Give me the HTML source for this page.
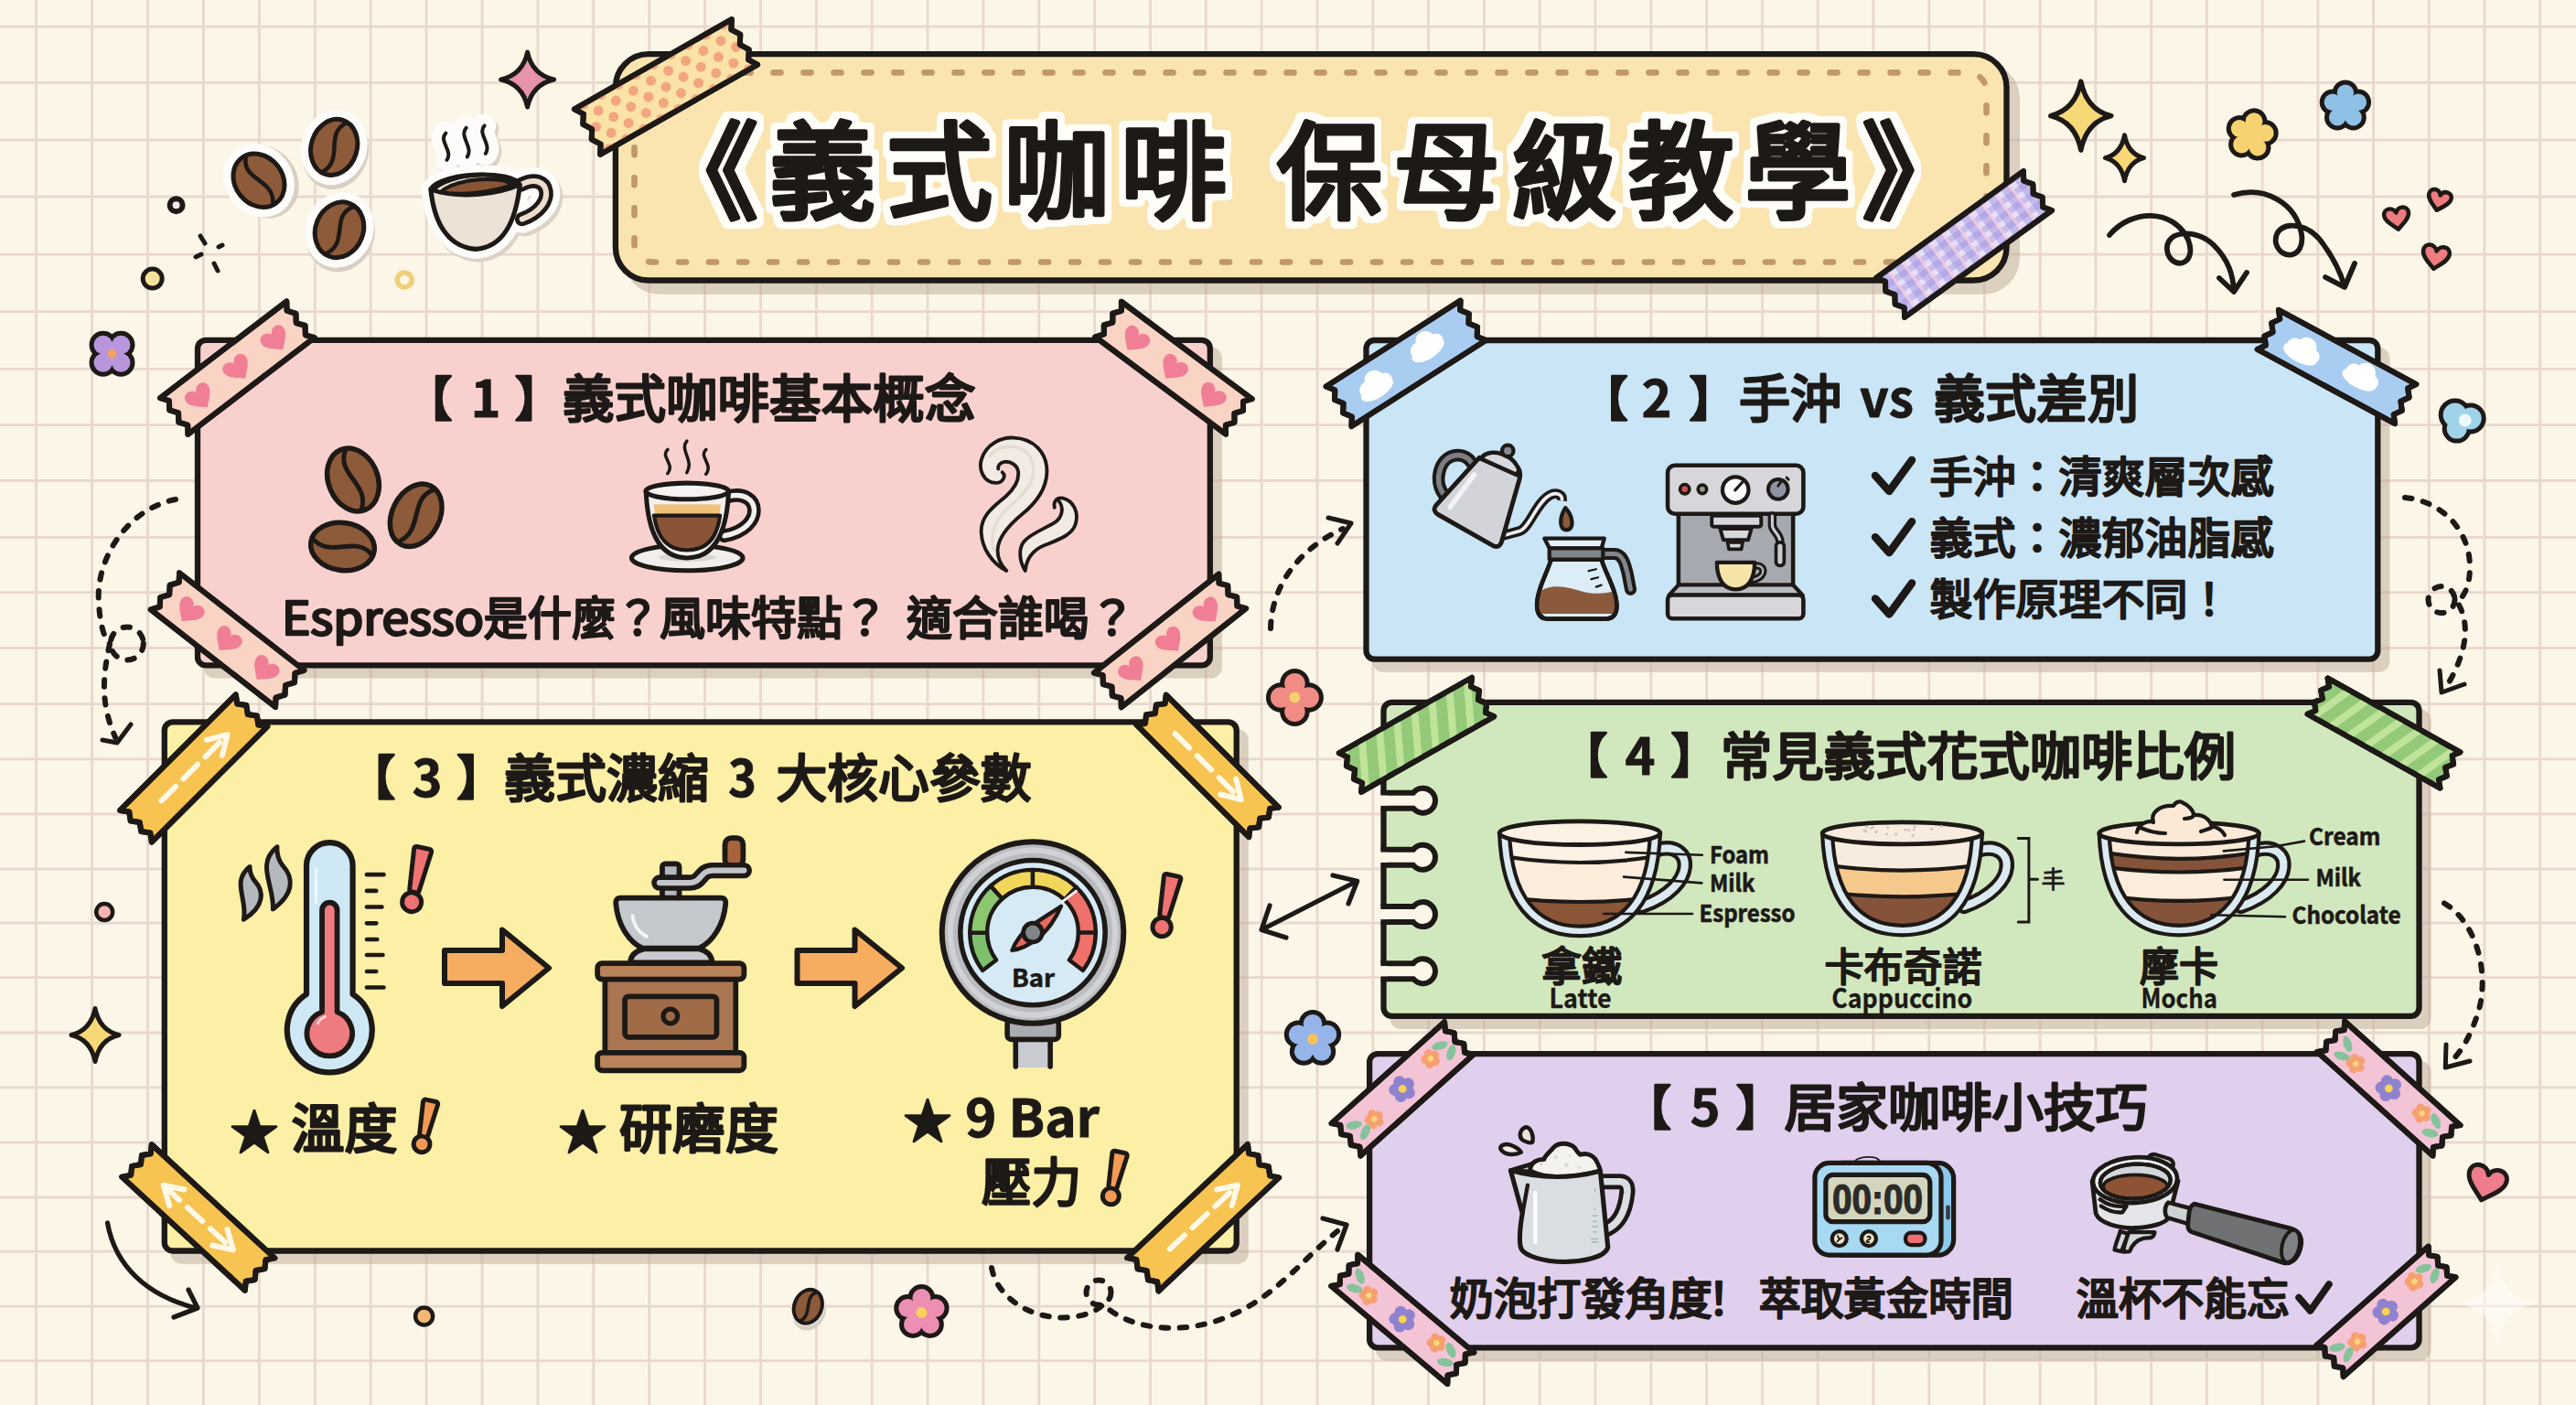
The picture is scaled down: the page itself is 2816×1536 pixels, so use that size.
<!DOCTYPE html>
<html lang="zh-Hant"><head><meta charset="utf-8"><title>義式咖啡 保母級教學</title>
<style>html,body{margin:0;padding:0;background:#fcf6e8;}body{width:2816px;height:1536px;overflow:hidden;}svg{display:block;}text{white-space:pre;}</style></head>
<body>
<svg width="2816" height="1536" viewBox="0 0 2816 1536">
<defs><filter id="tol" x="-3%" y="-25%" width="106%" height="150%" color-interpolation-filters="sRGB"><feMorphology in="SourceAlpha" operator="dilate" radius="7" result="d"/><feGaussianBlur in="d" stdDeviation="2.2" result="b"/><feComponentTransfer in="b" result="t"><feFuncA type="linear" slope="9" intercept="-3.2"/></feComponentTransfer><feFlood flood-color="#fffdf8" result="f"/><feComposite in="f" in2="t" operator="in" result="w"/><feMerge><feMergeNode in="w"/><feMergeNode in="SourceGraphic"/></feMerge></filter>
<clipPath id="tp1"><path d="M-99 -28.5 L99 -28.5 L93 -19 L99 -9.5 L93 0 L99 9.5 L93 19 L99 28.5 L-99 28.5 L-93 19 L-99 9.5 L-93 0 L-99 -9.5 L-93 -19Z"/></clipPath>
<clipPath id="tp2"><path d="M-99.5 -26.5 L99.5 -26.5 L93.5 -17.7 L99.5 -8.8 L93.5 0 L99.5 8.8 L93.5 17.7 L99.5 26.5 L-99.5 26.5 L-93.5 17.7 L-99.5 8.8 L-93.5 0 L-99.5 -8.8 L-93.5 -17.7Z"/></clipPath>
<clipPath id="tp3"><path d="M-87 -25 L87 -25 L81 -16.7 L87 -8.3 L81 0 L87 8.3 L81 16.7 L87 25 L-87 25 L-81 16.7 L-87 8.3 L-81 0 L-87 -8.3 L-81 -16.7Z"/></clipPath>
<clipPath id="tp4"><path d="M-89 -24 L89 -24 L83 -16 L89 -8 L83 0 L89 8 L83 16 L89 24 L-89 24 L-83 16 L-89 8 L-83 0 L-89 -8 L-83 -16Z"/></clipPath>
<clipPath id="tp5"><path d="M-86.5 -25.5 L86.5 -25.5 L80.5 -17 L86.5 -8.5 L80.5 0 L86.5 8.5 L80.5 17 L86.5 25.5 L-86.5 25.5 L-80.5 17 L-86.5 8.5 L-80.5 0 L-86.5 -8.5 L-80.5 -17Z"/></clipPath>
<clipPath id="tp6"><path d="M-87 -24 L87 -24 L81 -16 L87 -8 L81 0 L87 8 L81 16 L87 24 L-87 24 L-81 16 L-87 8 L-81 0 L-87 -8 L-81 -16Z"/></clipPath>
<clipPath id="tp7"><path d="M-87.2 -25.8 L87.2 -25.8 L81.2 -17.2 L87.2 -8.6 L81.2 0 L87.2 8.6 L81.2 17.2 L87.2 25.8 L-87.2 25.8 L-81.2 17.2 L-87.2 8.6 L-81.2 0 L-87.2 -8.6 L-81.2 -17.2Z"/></clipPath>
<clipPath id="tp8"><path d="M-85.5 -24.5 L85.5 -24.5 L79.5 -16.3 L85.5 -8.2 L79.5 0 L85.5 8.2 L79.5 16.3 L85.5 24.5 L-85.5 24.5 L-79.5 16.3 L-85.5 8.2 L-79.5 0 L-85.5 -8.2 L-79.5 -16.3Z"/></clipPath>
<clipPath id="tp9"><path d="M-89.5 -24.5 L89.5 -24.5 L83.5 -16.3 L89.5 -8.2 L83.5 0 L89.5 8.2 L83.5 16.3 L89.5 24.5 L-89.5 24.5 L-83.5 16.3 L-89.5 8.2 L-83.5 0 L-89.5 -8.2 L-83.5 -16.3Z"/></clipPath>
<clipPath id="tp10"><path d="M-87 -23 L87 -23 L81 -15.3 L87 -7.7 L81 0 L87 7.7 L81 15.3 L87 23 L-87 23 L-81 15.3 L-87 7.7 L-81 0 L-87 -7.7 L-81 -15.3Z"/></clipPath>
<clipPath id="tp11"><path d="M-91.5 -24 L91.5 -24 L85.5 -16 L91.5 -8 L85.5 0 L91.5 8 L85.5 16 L91.5 24 L-91.5 24 L-85.5 16 L-91.5 8 L-85.5 0 L-91.5 -8 L-85.5 -16Z"/></clipPath>
<clipPath id="tp12"><path d="M-90.5 -25 L90.5 -25 L84.5 -16.7 L90.5 -8.3 L84.5 0 L90.5 8.3 L84.5 16.7 L90.5 25 L-90.5 25 L-84.5 16.7 L-90.5 8.3 L-84.5 0 L-90.5 -8.3 L-84.5 -16.7Z"/></clipPath>
<clipPath id="tp13"><path d="M-83.5 -24.5 L83.5 -24.5 L77.5 -16.3 L83.5 -8.2 L77.5 0 L83.5 8.2 L77.5 16.3 L83.5 24.5 L-83.5 24.5 L-77.5 16.3 L-83.5 8.2 L-77.5 0 L-83.5 -8.2 L-77.5 -16.3Z"/></clipPath>
<clipPath id="tp14"><path d="M-83 -22.5 L83 -22.5 L77 -15 L83 -7.5 L77 0 L83 7.5 L77 15 L83 22.5 L-83 22.5 L-77 15 L-83 7.5 L-77 0 L-83 -7.5 L-77 -15Z"/></clipPath>
<clipPath id="tp15"><path d="M-83 -23.8 L83 -23.8 L77 -15.8 L83 -7.9 L77 0 L83 7.9 L77 15.8 L83 23.8 L-83 23.8 L-77 15.8 L-83 7.9 L-77 0 L-83 -7.9 L-77 -15.8Z"/></clipPath>
<clipPath id="tp16"><path d="M-83 -22.5 L83 -22.5 L77 -15 L83 -7.5 L77 0 L83 7.5 L77 15 L83 22.5 L-83 22.5 L-77 15 L-83 7.5 L-77 0 L-83 -7.5 L-77 -15Z"/></clipPath>
<clipPath id="tp17"><path d="M-85 -22.5 L85 -22.5 L79 -15 L85 -7.5 L79 0 L85 7.5 L79 15 L85 22.5 L-85 22.5 L-79 15 L-85 7.5 L-79 0 L-85 -7.5 L-79 -15Z"/></clipPath>
<clipPath id="tp18"><path d="M-82 -22.5 L82 -22.5 L76 -15 L82 -7.5 L76 0 L82 7.5 L76 15 L82 22.5 L-82 22.5 L-76 15 L-82 7.5 L-76 0 L-82 -7.5 L-76 -15Z"/></clipPath>
<clipPath id="cup1"><path d="M1650.1 910.7 C1652.4 980.1 1680.9 1012.7 1727 1012.7 C1773.1 1012.7 1801.6 980.1 1803.9 910.7Z"/></clipPath>
<clipPath id="cup2"><path d="M2003.1 910.9 C2005.4 979.5 2033.7 1011.8 2079.5 1011.8 C2125.3 1011.8 2153.6 979.5 2155.9 910.9Z"/></clipPath>
<clipPath id="cup3"><path d="M2305.7 910.9 C2308 979.5 2336.3 1011.8 2382.1 1011.8 C2427.9 1011.8 2456.2 979.5 2458.5 910.9Z"/></clipPath></defs>
<rect width="2816" height="1536" fill="#fcf6e8"/>
<path d="M39.6 0V1536M100.5 0V1536M161.5 0V1536M222.4 0V1536M283.4 0V1536M344.3 0V1536M405.2 0V1536M466.1 0V1536M527 0V1536M587.9 0V1536M648.8 0V1536M709.7 0V1536M770.6 0V1536M831.5 0V1536M892.4 0V1536M953.2 0V1536M1014.1 0V1536M1074.9 0V1536M1135.8 0V1536M1196.6 0V1536M1257.5 0V1536M1318.3 0V1536M1379.1 0V1536M1440 0V1536M1500.8 0V1536M1561.6 0V1536M1622.4 0V1536M1683.2 0V1536M1744 0V1536M1804.8 0V1536M1865.6 0V1536M1926.4 0V1536M1987.1 0V1536M2047.9 0V1536M2108.7 0V1536M2169.4 0V1536M2230.2 0V1536M2290.9 0V1536M2351.7 0V1536M2412.4 0V1536M2473.1 0V1536M2533.9 0V1536M2594.6 0V1536M2655.3 0V1536M2716 0V1536M2776.7 0V1536M0 29.2H2816M0 90.4H2816M0 153.1H2816M0 215H2816M0 278.1H2816M0 340.7H2816M0 403.4H2816M0 464.6H2816M0 525.5H2816M0 587.5H2816M0 647.6H2816M0 708.5H2816M0 769.7H2816M0 829.8H2816M0 890H2816M0 950H2816M0 1009H2816M0 1068.7H2816M0 1129H2816M0 1188.9H2816M0 1248.8H2816M0 1309H2816M0 1368.2H2816M0 1428.1H2816M0 1487.6H2816" stroke="#e8d8cd" stroke-width="2.8" fill="none"/>
<g transform="translate(283 197.3) rotate(-38)"><ellipse rx="37" ry="42" fill="#d9cfc2" transform="translate(3 4)"/><ellipse rx="37" ry="42" fill="#fdfcfa"/><ellipse rx="26" ry="31" fill="#8d5a3a" stroke="#1d1916" stroke-width="5"/><path d="M3.9 -28.5 C-14.3 -10.8 14.3 9.3 -3.1 28.8" fill="none" stroke="#1d1916" stroke-width="4.5" stroke-linecap="round"/></g>
<g transform="translate(365.2 160.9) rotate(18)"><ellipse rx="36" ry="42" fill="#d9cfc2" transform="translate(3 4)"/><ellipse rx="36" ry="42" fill="#fdfcfa"/><ellipse rx="25" ry="31" fill="#8d5a3a" stroke="#1d1916" stroke-width="5"/><path d="M3.8 -28.5 C-13.8 -10.8 13.8 9.3 -3 28.8" fill="none" stroke="#1d1916" stroke-width="4.5" stroke-linecap="round"/></g>
<g transform="translate(371 251.3) rotate(22)"><ellipse rx="37" ry="42" fill="#d9cfc2" transform="translate(3 4)"/><ellipse rx="37" ry="42" fill="#fdfcfa"/><ellipse rx="26" ry="31" fill="#8d5a3a" stroke="#1d1916" stroke-width="5"/><path d="M3.9 -28.5 C-14.3 -10.8 14.3 9.3 -3.1 28.8" fill="none" stroke="#1d1916" stroke-width="4.5" stroke-linecap="round"/></g>
<g transform="translate(0 0) scale(0.23485)" stroke-linejoin="round" stroke-linecap="round" ><g transform="translate(12 16)" opacity="0.9"><path d="M2005 880 C2020 1030 2080 1150 2215 1160 C2340 1150 2400 1040 2420 860 C2380 790 2060 800 2005 880Z" fill="#d9cfc2" stroke="#d9cfc2" stroke-width="90" /><path d="M2425 860 C2560 790 2600 960 2430 1020" fill="none" stroke="#d9cfc2" stroke-width="130" /><path d="M2075 620 C2040 657.5 2110 701.25 2080 745 M2170 595 C2135 635.5 2205 682.75 2175 730 M2255 585 C2220 624.0 2290 669.5 2260 715 " fill="none" stroke="#d9cfc2" stroke-width="110" /></g><path d="M2005 880 C2020 1030 2080 1150 2215 1160 C2340 1150 2400 1040 2420 860 C2380 790 2060 800 2005 880Z" fill="#fdfcfa" stroke="#fdfcfa" stroke-width="90" /><path d="M2425 860 C2560 790 2600 960 2430 1020" fill="none" stroke="#fdfcfa" stroke-width="130" /><path d="M2075 620 C2040 657.5 2110 701.25 2080 745 M2170 595 C2135 635.5 2205 682.75 2175 730 M2255 585 C2220 624.0 2290 669.5 2260 715 " fill="none" stroke="#fdfcfa" stroke-width="110" /><path d="M2425 860 C2560 790 2600 960 2430 1020" fill="none" stroke="#1d1916" stroke-width="66" /><path d="M2425 860 C2560 790 2600 960 2430 1020" fill="none" stroke="#ecdccb" stroke-width="26" /><path d="M2005 880 C2020 1030 2080 1150 2215 1160 C2340 1150 2400 1040 2420 860 C2380 790 2060 800 2005 880Z" fill="#ece2d6" stroke="#1d1916" stroke-width="22" /><path d="M2012 885 C2100 800 2350 790 2415 862 C2330 900 2150 930 2012 885Z" fill="#f1e6da" stroke="#1d1916" stroke-width="20" /><path d="M2050 895 C2120 830 2330 815 2390 860 C2300 890 2150 915 2050 895Z" fill="#8a5537" stroke="#1d1916" stroke-width="18" /><path d="M2075 620 C2040 657.5 2110 701.25 2080 745 M2170 595 C2135 635.5 2205 682.75 2175 730 M2255 585 C2220 624.0 2290 669.5 2260 715 " fill="none" stroke="#1d1916" stroke-width="17" /></g>
<path transform="translate(576.6 87) rotate(0)" d="M0 -30 Q5.2 -5.4 29 0 Q5.2 5.4 0 30 Q-5.2 5.4 -29 0 Q-5.2 -5.4 0 -30Z" fill="#e793a8" stroke="#1d1916" stroke-width="5" stroke-linejoin="round"/>
<path transform="translate(2274.8 126.6) rotate(0)" d="M0 -37.5 Q5.9 -6.8 33 0 Q5.9 6.8 0 37.5 Q-5.9 6.8 -33 0 Q-5.9 -6.8 0 -37.5Z" fill="#f6d877" stroke="#1d1916" stroke-width="5.5" stroke-linejoin="round"/>
<path transform="translate(2322.5 172.7) rotate(0)" d="M0 -25 Q3.8 -4.5 21 0 Q3.8 4.5 0 25 Q-3.8 4.5 -21 0 Q-3.8 -4.5 0 -25Z" fill="#f6d877" stroke="#1d1916" stroke-width="5" stroke-linejoin="round"/>
<path transform="translate(104 1131.5) rotate(0)" d="M0 -29 Q4.7 -5.2 26 0 Q4.7 5.2 0 29 Q-4.7 5.2 -26 0 Q-4.7 -5.2 0 -29Z" fill="#f6d877" stroke="#1d1916" stroke-width="5" stroke-linejoin="round"/>
<g transform="translate(2461.4 147.6) rotate(10)"><g fill="#1d1916" stroke="#1d1916" stroke-width="10"><circle cx="0" cy="-15.1" r="9.4"/><circle cx="14.3" cy="-4.7" r="9.4"/><circle cx="8.9" cy="12.2" r="9.4"/><circle cx="-8.9" cy="12.2" r="9.4"/><circle cx="-14.3" cy="-4.7" r="9.4"/><circle r="13.6"/></g><g fill="#f6d370"><circle cx="0" cy="-15.1" r="9.4"/><circle cx="14.3" cy="-4.7" r="9.4"/><circle cx="8.9" cy="12.2" r="9.4"/><circle cx="-8.9" cy="12.2" r="9.4"/><circle cx="-14.3" cy="-4.7" r="9.4"/><circle r="13.6"/></g></g>
<g transform="translate(2563.9 116.4) rotate(0)"><g fill="#1d1916" stroke="#1d1916" stroke-width="10"><circle cx="0" cy="-14.8" r="9.2"/><circle cx="14" cy="-4.6" r="9.2"/><circle cx="8.7" cy="11.9" r="9.2"/><circle cx="-8.7" cy="11.9" r="9.2"/><circle cx="-14" cy="-4.6" r="9.2"/><circle r="13.3"/></g><g fill="#8ec0e6"><circle cx="0" cy="-14.8" r="9.2"/><circle cx="14" cy="-4.6" r="9.2"/><circle cx="8.7" cy="11.9" r="9.2"/><circle cx="-8.7" cy="11.9" r="9.2"/><circle cx="-14" cy="-4.6" r="9.2"/><circle r="13.3"/></g></g>
<g transform="translate(122.5 386.7) rotate(45)"><g fill="#1d1916" stroke="#1d1916" stroke-width="10"><circle cx="0" cy="-13.8" r="10.2"/><circle cx="13.8" cy="0" r="10.2"/><circle cx="0" cy="13.8" r="10.2"/><circle cx="-13.8" cy="0" r="10.2"/><circle r="12.4"/></g><g fill="#b796dc"><circle cx="0" cy="-13.8" r="10.2"/><circle cx="13.8" cy="0" r="10.2"/><circle cx="0" cy="13.8" r="10.2"/><circle cx="-13.8" cy="0" r="10.2"/><circle r="12.4"/></g><circle r="5" fill="#f4a261"/></g>
<g transform="translate(1415.4 762.5) rotate(0)"><g fill="#1d1916" stroke="#1d1916" stroke-width="10"><circle cx="0" cy="-15.2" r="11.3"/><circle cx="15.2" cy="0" r="11.3"/><circle cx="0" cy="15.2" r="11.3"/><circle cx="-15.2" cy="0" r="11.3"/><circle r="13.7"/></g><g fill="#f08c84"><circle cx="0" cy="-15.2" r="11.3"/><circle cx="15.2" cy="0" r="11.3"/><circle cx="0" cy="15.2" r="11.3"/><circle cx="-15.2" cy="0" r="11.3"/><circle r="13.7"/></g><circle r="6" fill="#f6d06a"/></g>
<g transform="translate(1435 1136) rotate(0)"><g fill="#1d1916" stroke="#1d1916" stroke-width="10"><circle cx="0" cy="-16.6" r="10.4"/><circle cx="15.8" cy="-5.1" r="10.4"/><circle cx="9.8" cy="13.4" r="10.4"/><circle cx="-9.8" cy="13.4" r="10.4"/><circle cx="-15.8" cy="-5.1" r="10.4"/><circle r="14.9"/></g><g fill="#95b5ea"><circle cx="0" cy="-16.6" r="10.4"/><circle cx="15.8" cy="-5.1" r="10.4"/><circle cx="9.8" cy="13.4" r="10.4"/><circle cx="-9.8" cy="13.4" r="10.4"/><circle cx="-15.8" cy="-5.1" r="10.4"/><circle r="14.9"/></g><circle r="6" fill="#f6c25a"/></g>
<g transform="translate(1007.4 1435) rotate(0)"><g fill="#1d1916" stroke="#1d1916" stroke-width="10"><circle cx="0" cy="-16" r="10"/><circle cx="15.2" cy="-4.9" r="10"/><circle cx="9.4" cy="12.9" r="10"/><circle cx="-9.4" cy="12.9" r="10"/><circle cx="-15.2" cy="-4.9" r="10"/><circle r="14.4"/></g><g fill="#ec8fb2"><circle cx="0" cy="-16" r="10"/><circle cx="15.2" cy="-4.9" r="10"/><circle cx="9.4" cy="12.9" r="10"/><circle cx="-9.4" cy="12.9" r="10"/><circle cx="-15.2" cy="-4.9" r="10"/><circle r="14.4"/></g><circle r="6" fill="#f8d05c"/></g>
<path transform="translate(2620.2 238.6) rotate(-8)" d="M0 12.2 C-4.7 7.4 -13.5 2 -13.5 -4.7 C-13.5 -12.8 -2.7 -13.5 0 -6.1 C2.7 -13.5 13.5 -12.8 13.5 -4.7 C13.5 2 4.7 7.4 0 12.2Z" fill="#ee7c7f" stroke="#1d1916" stroke-width="4.5" stroke-linejoin="round"/>
<path transform="translate(2666.4 218.9) rotate(14)" d="M0 11.2 C-4.4 6.9 -12.5 1.9 -12.5 -4.4 C-12.5 -11.9 -2.5 -12.5 0 -5.6 C2.5 -12.5 12.5 -11.9 12.5 -4.4 C12.5 1.9 4.4 6.9 0 11.2Z" fill="#ee7c7f" stroke="#1d1916" stroke-width="4.5" stroke-linejoin="round"/>
<path transform="translate(2662.5 280.9) rotate(10)" d="M0 13.1 C-5.1 8 -14.5 2.2 -14.5 -5.1 C-14.5 -13.8 -2.9 -14.5 0 -6.5 C2.9 -14.5 14.5 -13.8 14.5 -5.1 C14.5 2.2 5.1 8 0 13.1Z" fill="#ee7c7f" stroke="#1d1916" stroke-width="4.5" stroke-linejoin="round"/>
<path transform="translate(2717.7 1293.6) rotate(16)" d="M0 18.9 C-7.3 11.6 -21 3.1 -21 -7.3 C-21 -19.9 -4.2 -21 0 -9.5 C4.2 -21 21 -19.9 21 -7.3 C21 3.1 7.3 11.6 0 18.9Z" fill="#ee7c8c" stroke="#1d1916" stroke-width="5" stroke-linejoin="round"/>
<g transform="translate(2691.7 459.6)"><g fill="#1d1916" stroke="#1d1916" stroke-width="10"><circle cx="-8" cy="-6" r="13"/><circle cx="9" cy="-2" r="12"/><circle cx="-6" cy="9" r="11"/></g><g fill="#9fd3ea"><circle cx="-8" cy="-6" r="13"/><circle cx="9" cy="-2" r="12"/><circle cx="-6" cy="9" r="11"/></g><circle cx="3" cy="0" r="7" fill="#eef8fc"/></g>
<circle cx="192.6" cy="224.3" r="7" fill="#f3e9e4" stroke="#1d1916" stroke-width="6"/>
<circle cx="166.7" cy="304.6" r="10.5" fill="#f7e29b" stroke="#1d1916" stroke-width="5"/>
<circle cx="442.2" cy="306" r="8" fill="#fdf6e6" stroke="#f0cf7a" stroke-width="5.5"/>
<circle cx="114.2" cy="997.1" r="9" fill="#f4b6b0" stroke="#1d1916" stroke-width="4.5"/>
<circle cx="463.6" cy="1439" r="9.5" fill="#f2b874" stroke="#1d1916" stroke-width="4.5"/>
<g transform="translate(883.3 1428.3) rotate(22)"><ellipse rx="18" ry="22" fill="#d9cfc2" transform="translate(3 4)"/><ellipse rx="18" ry="22" fill="#fdfcfa"/><ellipse rx="15" ry="19" fill="#8d5a3a" stroke="#1d1916" stroke-width="4"/><path d="M2.2 -17.5 C-8.2 -6.6 8.2 5.7 -1.8 17.7" fill="none" stroke="#1d1916" stroke-width="3.6" stroke-linecap="round"/></g>
<path d="M219 258 L224 266 M239 270 L243 268 M214 281 L220 278 M234 288 L238 296" stroke="#1d1916" stroke-width="5" stroke-linecap="round" fill="none"/>
<path d="M2306 257 C2330 228 2376 228 2392 262 C2402 288 2378 296 2370 278 C2362 252 2400 248 2420 268 C2436 284 2441 300 2442 318 M2426 304 L2442 319 L2456 298" fill="none" stroke="#1d1916" stroke-linecap="round" stroke-linejoin="round" stroke-width="5.8"/>
<path d="M2442 213 C2476 203 2510 222 2516 256 C2520 282 2494 286 2488 266 C2484 244 2516 238 2536 262 C2550 280 2558 296 2563 313 M2542 303 L2563 314 L2574 288" fill="none" stroke="#1d1916" stroke-linecap="round" stroke-linejoin="round" stroke-width="5.8"/>
<path d="M192 546 C140 556 104 610 108 660 C110 690 116 700 120 704 C112 740 110 770 126 806" fill="none" stroke="#1d1916" stroke-linecap="round" stroke-linejoin="round" stroke-width="6" stroke-dasharray="7.5 12.5"/>
<circle cx="138.8" cy="703.5" r="18" fill="none" stroke="#1d1916" stroke-linecap="round" stroke-linejoin="round" stroke-width="6" stroke-dasharray="7.5 12.5"/>
<path d="M112 809 L128 812 L143 792" fill="none" stroke="#1d1916" stroke-linecap="round" stroke-linejoin="round" stroke-width="5"/>
<path d="M1389 687 C1390 640 1420 600 1468 578" fill="none" stroke="#1d1916" stroke-linecap="round" stroke-linejoin="round" stroke-width="6" stroke-dasharray="7.5 12.5"/>
<path d="M1452 566 L1477 572 L1462 594" fill="none" stroke="#1d1916" stroke-linecap="round" stroke-linejoin="round" stroke-width="5"/>
<path d="M1381 1015.5 L1482 964 M1406 1025 L1379 1016.5 L1388 990 M1457 957 L1483.7 963.2 L1474 988" fill="none" stroke="#1d1916" stroke-linecap="round" stroke-linejoin="round" stroke-width="5.2"/>
<path d="M2629 544 C2670 548 2700 580 2700 620 C2700 640 2694 652 2686 658 C2700 680 2698 710 2676 748" fill="none" stroke="#1d1916" stroke-linecap="round" stroke-linejoin="round" stroke-width="6" stroke-dasharray="7.5 12.5"/>
<circle cx="2669" cy="655.6" r="14.5" fill="none" stroke="#1d1916" stroke-linecap="round" stroke-linejoin="round" stroke-width="6" stroke-dasharray="7.5 12.5"/>
<path d="M2667 733 L2669 757 L2694 748" fill="none" stroke="#1d1916" stroke-linecap="round" stroke-linejoin="round" stroke-width="5"/>
<path d="M2672 987.5 C2710 1010 2722 1070 2708 1110 C2700 1134 2690 1150 2680 1160" fill="none" stroke="#1d1916" stroke-linecap="round" stroke-linejoin="round" stroke-width="6" stroke-dasharray="7.5 12.5"/>
<path d="M2674 1142 L2673.3 1167 L2700 1160" fill="none" stroke="#1d1916" stroke-linecap="round" stroke-linejoin="round" stroke-width="5"/>
<path d="M1084 1386 C1090 1420 1130 1444 1170 1440 C1190 1438 1200 1432 1206 1426 C1230 1450 1280 1460 1330 1444 C1390 1424 1420 1380 1462 1346" fill="none" stroke="#1d1916" stroke-linecap="round" stroke-linejoin="round" stroke-width="6" stroke-dasharray="7.5 12.5"/>
<circle cx="1201" cy="1413" r="13.5" fill="none" stroke="#1d1916" stroke-linecap="round" stroke-linejoin="round" stroke-width="6" stroke-dasharray="7.5 12.5"/>
<path d="M1446 1332 L1472 1339 L1462 1366" fill="none" stroke="#1d1916" stroke-linecap="round" stroke-linejoin="round" stroke-width="5.2"/>
<path d="M117.5 1337 C126 1384 160 1416 214 1430 M190 1440 L216 1430 L206 1410" fill="none" stroke="#1d1916" stroke-linecap="round" stroke-linejoin="round" stroke-width="5.2"/>
<path transform="translate(2730 1425)" d="M0 -46 Q5 -5 46 0 Q5 5 0 46 Q-5 5 -46 0 Q-5 -5 0 -46Z" fill="#fffdf8" opacity="0.55"/>
<rect x="681" y="68" width="1527" height="253.8" rx="40" fill="#bfae9c" opacity="0.55"/>
<rect x="672.9" y="59.1" width="1520.6" height="247.4" rx="36" fill="#fae5b1" stroke="#1d1916" stroke-width="6.4"/>
<rect x="693.5" y="79.4" width="1478" height="207.1" rx="20" fill="none" stroke="#c0986a" stroke-width="6.6" stroke-linecap="round" stroke-dasharray="8 25"/>
<text x="713 841 969 1097 1225" y="229.7" font-size="116" font-weight="400" font-family="'Noto Sans CJK TC','Liberation Sans',sans-serif" fill="#1d1916" stroke="#1d1916" stroke-width="5.5" stroke-linejoin="round" filter="url(#tol)">《義式咖啡</text>
<text x="1395.5 1523.5 1651.5 1779.5 1907.5 2035.5" y="229.7" font-size="116" font-weight="400" font-family="'Noto Sans CJK TC','Liberation Sans',sans-serif" fill="#1d1916" stroke="#1d1916" stroke-width="5.5" stroke-linejoin="round" filter="url(#tol)">保母級教學》</text>
<g transform="translate(728 95) rotate(-29.7)">
<path d="M-99 -28.5 L99 -28.5 L93 -19 L99 -9.5 L93 0 L99 9.5 L93 19 L99 28.5 L-99 28.5 L-93 19 L-99 9.5 L-93 0 L-99 -9.5 L-93 -19Z" fill="#fbe2a6" stroke="#1d1916" stroke-width="6" stroke-linejoin="round"/>
<g clip-path="url(#tp1)"><circle cx="-110" cy="-28" r="5.5" fill="#f2a680"/><circle cx="-99" cy="-14" r="5.5" fill="#f2a680"/><circle cx="-110" cy="0" r="5.5" fill="#f2a680"/><circle cx="-99" cy="14" r="5.5" fill="#f2a680"/><circle cx="-110" cy="28" r="5.5" fill="#f2a680"/><circle cx="-88" cy="-28" r="5.5" fill="#f2a680"/><circle cx="-77" cy="-14" r="5.5" fill="#f2a680"/><circle cx="-88" cy="0" r="5.5" fill="#f2a680"/><circle cx="-77" cy="14" r="5.5" fill="#f2a680"/><circle cx="-88" cy="28" r="5.5" fill="#f2a680"/><circle cx="-66" cy="-28" r="5.5" fill="#f2a680"/><circle cx="-55" cy="-14" r="5.5" fill="#f2a680"/><circle cx="-66" cy="0" r="5.5" fill="#f2a680"/><circle cx="-55" cy="14" r="5.5" fill="#f2a680"/><circle cx="-66" cy="28" r="5.5" fill="#f2a680"/><circle cx="-44" cy="-28" r="5.5" fill="#f2a680"/><circle cx="-33" cy="-14" r="5.5" fill="#f2a680"/><circle cx="-44" cy="0" r="5.5" fill="#f2a680"/><circle cx="-33" cy="14" r="5.5" fill="#f2a680"/><circle cx="-44" cy="28" r="5.5" fill="#f2a680"/><circle cx="-22" cy="-28" r="5.5" fill="#f2a680"/><circle cx="-11" cy="-14" r="5.5" fill="#f2a680"/><circle cx="-22" cy="0" r="5.5" fill="#f2a680"/><circle cx="-11" cy="14" r="5.5" fill="#f2a680"/><circle cx="-22" cy="28" r="5.5" fill="#f2a680"/><circle cx="0" cy="-28" r="5.5" fill="#f2a680"/><circle cx="11" cy="-14" r="5.5" fill="#f2a680"/><circle cx="0" cy="0" r="5.5" fill="#f2a680"/><circle cx="11" cy="14" r="5.5" fill="#f2a680"/><circle cx="0" cy="28" r="5.5" fill="#f2a680"/><circle cx="22" cy="-28" r="5.5" fill="#f2a680"/><circle cx="33" cy="-14" r="5.5" fill="#f2a680"/><circle cx="22" cy="0" r="5.5" fill="#f2a680"/><circle cx="33" cy="14" r="5.5" fill="#f2a680"/><circle cx="22" cy="28" r="5.5" fill="#f2a680"/><circle cx="44" cy="-28" r="5.5" fill="#f2a680"/><circle cx="55" cy="-14" r="5.5" fill="#f2a680"/><circle cx="44" cy="0" r="5.5" fill="#f2a680"/><circle cx="55" cy="14" r="5.5" fill="#f2a680"/><circle cx="44" cy="28" r="5.5" fill="#f2a680"/><circle cx="66" cy="-28" r="5.5" fill="#f2a680"/><circle cx="77" cy="-14" r="5.5" fill="#f2a680"/><circle cx="66" cy="0" r="5.5" fill="#f2a680"/><circle cx="77" cy="14" r="5.5" fill="#f2a680"/><circle cx="66" cy="28" r="5.5" fill="#f2a680"/><circle cx="88" cy="-28" r="5.5" fill="#f2a680"/><circle cx="99" cy="-14" r="5.5" fill="#f2a680"/><circle cx="88" cy="0" r="5.5" fill="#f2a680"/><circle cx="99" cy="14" r="5.5" fill="#f2a680"/><circle cx="88" cy="28" r="5.5" fill="#f2a680"/><circle cx="110" cy="-28" r="5.5" fill="#f2a680"/><circle cx="121" cy="-14" r="5.5" fill="#f2a680"/><circle cx="110" cy="0" r="5.5" fill="#f2a680"/><circle cx="121" cy="14" r="5.5" fill="#f2a680"/><circle cx="110" cy="28" r="5.5" fill="#f2a680"/></g>
<path d="M-99 -28.5 L99 -28.5 L93 -19 L99 -9.5 L93 0 L99 9.5 L93 19 L99 28.5 L-99 28.5 L-93 19 L-99 9.5 L-93 0 L-99 -9.5 L-93 -19Z" fill="none" stroke="#1d1916" stroke-width="6" stroke-linejoin="round"/>
</g>
<g transform="translate(2147 267) rotate(-36)">
<path d="M-99.5 -26.5 L99.5 -26.5 L93.5 -17.7 L99.5 -8.8 L93.5 0 L99.5 8.8 L93.5 17.7 L99.5 26.5 L-99.5 26.5 L-93.5 17.7 L-99.5 8.8 L-93.5 0 L-99.5 -8.8 L-93.5 -17.7Z" fill="#e6e0f8" stroke="#1d1916" stroke-width="6" stroke-linejoin="round"/>
<g clip-path="url(#tp2)"><rect x="-112.5" y="-40" width="9" height="80" fill="#a195e0" opacity="0.5"/><rect x="-94.5" y="-40" width="9" height="80" fill="#a195e0" opacity="0.5"/><rect x="-76.5" y="-40" width="9" height="80" fill="#a195e0" opacity="0.5"/><rect x="-58.5" y="-40" width="9" height="80" fill="#a195e0" opacity="0.5"/><rect x="-40.5" y="-40" width="9" height="80" fill="#a195e0" opacity="0.5"/><rect x="-22.5" y="-40" width="9" height="80" fill="#a195e0" opacity="0.5"/><rect x="-4.5" y="-40" width="9" height="80" fill="#a195e0" opacity="0.5"/><rect x="13.5" y="-40" width="9" height="80" fill="#a195e0" opacity="0.5"/><rect x="31.5" y="-40" width="9" height="80" fill="#a195e0" opacity="0.5"/><rect x="49.5" y="-40" width="9" height="80" fill="#a195e0" opacity="0.5"/><rect x="67.5" y="-40" width="9" height="80" fill="#a195e0" opacity="0.5"/><rect x="85.5" y="-40" width="9" height="80" fill="#a195e0" opacity="0.5"/><rect x="103.5" y="-40" width="9" height="80" fill="#a195e0" opacity="0.5"/><rect x="-120" y="-29.5" width="240" height="7" fill="#a195e0" opacity="0.45"/><rect x="-120" y="-16.5" width="240" height="7" fill="#a195e0" opacity="0.45"/><rect x="-120" y="-3.5" width="240" height="7" fill="#a195e0" opacity="0.45"/><rect x="-120" y="9.5" width="240" height="7" fill="#a195e0" opacity="0.45"/><rect x="-120" y="22.5" width="240" height="7" fill="#a195e0" opacity="0.45"/><rect x="-103.5" y="-40" width="3" height="80" fill="#f5c9dc" opacity="0.8"/><rect x="-85.5" y="-40" width="3" height="80" fill="#f5c9dc" opacity="0.8"/><rect x="-67.5" y="-40" width="3" height="80" fill="#f5c9dc" opacity="0.8"/><rect x="-49.5" y="-40" width="3" height="80" fill="#f5c9dc" opacity="0.8"/><rect x="-31.5" y="-40" width="3" height="80" fill="#f5c9dc" opacity="0.8"/><rect x="-13.5" y="-40" width="3" height="80" fill="#f5c9dc" opacity="0.8"/><rect x="4.5" y="-40" width="3" height="80" fill="#f5c9dc" opacity="0.8"/><rect x="22.5" y="-40" width="3" height="80" fill="#f5c9dc" opacity="0.8"/><rect x="40.5" y="-40" width="3" height="80" fill="#f5c9dc" opacity="0.8"/><rect x="58.5" y="-40" width="3" height="80" fill="#f5c9dc" opacity="0.8"/><rect x="76.5" y="-40" width="3" height="80" fill="#f5c9dc" opacity="0.8"/><rect x="94.5" y="-40" width="3" height="80" fill="#f5c9dc" opacity="0.8"/><rect x="112.5" y="-40" width="3" height="80" fill="#f5c9dc" opacity="0.8"/></g>
<path d="M-99.5 -26.5 L99.5 -26.5 L93.5 -17.7 L99.5 -8.8 L93.5 0 L99.5 8.8 L93.5 17.7 L99.5 26.5 L-99.5 26.5 L-93.5 17.7 L-99.5 8.8 L-93.5 0 L-99.5 -8.8 L-93.5 -17.7Z" fill="none" stroke="#1d1916" stroke-width="6" stroke-linejoin="round"/>
</g>
<rect x="222.8" y="379.6" width="1113.1" height="361.9" rx="12" fill="#bfae9c" opacity="0.55"/>
<rect x="216" y="371.8" width="1106.8" height="355.6" rx="9" fill="#f8d1cf" stroke="#1d1916" stroke-width="6.3"/>
<rect x="1500.3" y="379.9" width="1112.1" height="354.9" rx="12" fill="#bfae9c" opacity="0.55"/>
<rect x="1493.5" y="372" width="1105.8" height="348.6" rx="9" fill="#c9e5f6" stroke="#1d1916" stroke-width="6.3"/>
<rect x="186.6" y="797.3" width="1178.2" height="584.4" rx="12" fill="#bfae9c" opacity="0.55"/>
<rect x="179.8" y="789.4" width="1171.9" height="578.1" rx="9" fill="#fcefa6" stroke="#1d1916" stroke-width="6.3"/>
<rect x="1519.3" y="775.8" width="1138.3" height="349.2" rx="12" fill="#bfae9c" opacity="0.55"/>
<rect x="1512.5" y="767.9" width="1132" height="342.9" rx="9" fill="#d1e8be" stroke="#1d1916" stroke-width="6.3"/>
<rect x="1503.9" y="1159.9" width="1153.7" height="327.6" rx="12" fill="#bfae9c" opacity="0.55"/>
<rect x="1497.1" y="1152.1" width="1147.4" height="321.3" rx="9" fill="#e1cfee" stroke="#1d1916" stroke-width="6.3"/>
<path d="M1509.5 866.7 H1545 A13.5 13.5 0 1 1 1545 883.7 H1509.5" fill="#fcf6e8" stroke="#1d1916" stroke-width="6"/>
<rect x="1507" y="869.7" width="10" height="11" fill="#fcf6e8"/>
<path d="M1509.5 928.8 H1545 A13.5 13.5 0 1 1 1545 945.8 H1509.5" fill="#fcf6e8" stroke="#1d1916" stroke-width="6"/>
<rect x="1507" y="931.8" width="10" height="11" fill="#fcf6e8"/>
<path d="M1509.5 991.1 H1545 A13.5 13.5 0 1 1 1545 1008.1 H1509.5" fill="#fcf6e8" stroke="#1d1916" stroke-width="6"/>
<rect x="1507" y="994.1" width="10" height="11" fill="#fcf6e8"/>
<path d="M1509.5 1053.2 H1545 A13.5 13.5 0 1 1 1545 1070.2 H1509.5" fill="#fcf6e8" stroke="#1d1916" stroke-width="6"/>
<rect x="1507" y="1056.2" width="10" height="11" fill="#fcf6e8"/>
<g transform="translate(259.4 402.2) rotate(-37.4)">
<path d="M-87 -25 L87 -25 L81 -16.7 L87 -8.3 L81 0 L87 8.3 L81 16.7 L87 25 L-87 25 L-81 16.7 L-87 8.3 L-81 0 L-87 -8.3 L-81 -16.7Z" fill="#f9d3c3" stroke="#1d1916" stroke-width="6" stroke-linejoin="round"/>
<g clip-path="url(#tp3)"><path transform="translate(-52 1) rotate(0)" d="M0 13.5 C-5.2 8.2 -15 2.2 -15 -5.2 C-15 -14.2 -3 -15 0 -6.8 C3 -15 15 -14.2 15 -5.2 C15 2.2 5.2 8.2 0 13.5Z" fill="#f07f95" /><path transform="translate(0 1) rotate(0)" d="M0 13.5 C-5.2 8.2 -15 2.2 -15 -5.2 C-15 -14.2 -3 -15 0 -6.8 C3 -15 15 -14.2 15 -5.2 C15 2.2 5.2 8.2 0 13.5Z" fill="#f07f95" /><path transform="translate(52 1) rotate(0)" d="M0 13.5 C-5.2 8.2 -15 2.2 -15 -5.2 C-15 -14.2 -3 -15 0 -6.8 C3 -15 15 -14.2 15 -5.2 C15 2.2 5.2 8.2 0 13.5Z" fill="#f07f95" /></g>
<path d="M-87 -25 L87 -25 L81 -16.7 L87 -8.3 L81 0 L87 8.3 L81 16.7 L87 25 L-87 25 L-81 16.7 L-87 8.3 L-81 0 L-87 -8.3 L-81 -16.7Z" fill="none" stroke="#1d1916" stroke-width="6" stroke-linejoin="round"/>
</g>
<g transform="translate(1282.9 402.2) rotate(36.7)">
<path d="M-89 -24 L89 -24 L83 -16 L89 -8 L83 0 L89 8 L83 16 L89 24 L-89 24 L-83 16 L-89 8 L-83 0 L-89 -8 L-83 -16Z" fill="#f9d3c3" stroke="#1d1916" stroke-width="6" stroke-linejoin="round"/>
<g clip-path="url(#tp4)"><path transform="translate(-52 1) rotate(0)" d="M0 13.5 C-5.2 8.2 -15 2.2 -15 -5.2 C-15 -14.2 -3 -15 0 -6.8 C3 -15 15 -14.2 15 -5.2 C15 2.2 5.2 8.2 0 13.5Z" fill="#f07f95" /><path transform="translate(0 1) rotate(0)" d="M0 13.5 C-5.2 8.2 -15 2.2 -15 -5.2 C-15 -14.2 -3 -15 0 -6.8 C3 -15 15 -14.2 15 -5.2 C15 2.2 5.2 8.2 0 13.5Z" fill="#f07f95" /><path transform="translate(52 1) rotate(0)" d="M0 13.5 C-5.2 8.2 -15 2.2 -15 -5.2 C-15 -14.2 -3 -15 0 -6.8 C3 -15 15 -14.2 15 -5.2 C15 2.2 5.2 8.2 0 13.5Z" fill="#f07f95" /></g>
<path d="M-89 -24 L89 -24 L83 -16 L89 -8 L83 0 L89 8 L83 16 L89 24 L-89 24 L-83 16 L-89 8 L-83 0 L-89 -8 L-83 -16Z" fill="none" stroke="#1d1916" stroke-width="6" stroke-linejoin="round"/>
</g>
<g transform="translate(248.6 699.6) rotate(38)">
<path d="M-86.5 -25.5 L86.5 -25.5 L80.5 -17 L86.5 -8.5 L80.5 0 L86.5 8.5 L80.5 17 L86.5 25.5 L-86.5 25.5 L-80.5 17 L-86.5 8.5 L-80.5 0 L-86.5 -8.5 L-80.5 -17Z" fill="#f9d3c3" stroke="#1d1916" stroke-width="6" stroke-linejoin="round"/>
<g clip-path="url(#tp5)"><path transform="translate(-52 1) rotate(0)" d="M0 13.5 C-5.2 8.2 -15 2.2 -15 -5.2 C-15 -14.2 -3 -15 0 -6.8 C3 -15 15 -14.2 15 -5.2 C15 2.2 5.2 8.2 0 13.5Z" fill="#f07f95" /><path transform="translate(0 1) rotate(0)" d="M0 13.5 C-5.2 8.2 -15 2.2 -15 -5.2 C-15 -14.2 -3 -15 0 -6.8 C3 -15 15 -14.2 15 -5.2 C15 2.2 5.2 8.2 0 13.5Z" fill="#f07f95" /><path transform="translate(52 1) rotate(0)" d="M0 13.5 C-5.2 8.2 -15 2.2 -15 -5.2 C-15 -14.2 -3 -15 0 -6.8 C3 -15 15 -14.2 15 -5.2 C15 2.2 5.2 8.2 0 13.5Z" fill="#f07f95" /></g>
<path d="M-86.5 -25.5 L86.5 -25.5 L80.5 -17 L86.5 -8.5 L80.5 0 L86.5 8.5 L80.5 17 L86.5 25.5 L-86.5 25.5 L-80.5 17 L-86.5 8.5 L-80.5 0 L-86.5 -8.5 L-80.5 -17Z" fill="none" stroke="#1d1916" stroke-width="6" stroke-linejoin="round"/>
</g>
<g transform="translate(1279 700.4) rotate(-38.4)">
<path d="M-87 -24 L87 -24 L81 -16 L87 -8 L81 0 L87 8 L81 16 L87 24 L-87 24 L-81 16 L-87 8 L-81 0 L-87 -8 L-81 -16Z" fill="#f9d3c3" stroke="#1d1916" stroke-width="6" stroke-linejoin="round"/>
<g clip-path="url(#tp6)"><path transform="translate(-52 1) rotate(0)" d="M0 13.5 C-5.2 8.2 -15 2.2 -15 -5.2 C-15 -14.2 -3 -15 0 -6.8 C3 -15 15 -14.2 15 -5.2 C15 2.2 5.2 8.2 0 13.5Z" fill="#f07f95" /><path transform="translate(0 1) rotate(0)" d="M0 13.5 C-5.2 8.2 -15 2.2 -15 -5.2 C-15 -14.2 -3 -15 0 -6.8 C3 -15 15 -14.2 15 -5.2 C15 2.2 5.2 8.2 0 13.5Z" fill="#f07f95" /><path transform="translate(52 1) rotate(0)" d="M0 13.5 C-5.2 8.2 -15 2.2 -15 -5.2 C-15 -14.2 -3 -15 0 -6.8 C3 -15 15 -14.2 15 -5.2 C15 2.2 5.2 8.2 0 13.5Z" fill="#f07f95" /></g>
<path d="M-87 -24 L87 -24 L81 -16 L87 -8 L81 0 L87 8 L81 16 L87 24 L-87 24 L-81 16 L-87 8 L-81 0 L-87 -8 L-81 -16Z" fill="none" stroke="#1d1916" stroke-width="6" stroke-linejoin="round"/>
</g>
<g transform="translate(1537 397.3) rotate(-32.6)">
<path d="M-87.2 -25.8 L87.2 -25.8 L81.2 -17.2 L87.2 -8.6 L81.2 0 L87.2 8.6 L81.2 17.2 L87.2 25.8 L-87.2 25.8 L-81.2 17.2 L-87.2 8.6 L-81.2 0 L-87.2 -8.6 L-81.2 -17.2Z" fill="#a9cdf0" stroke="#1d1916" stroke-width="6" stroke-linejoin="round"/>
<g clip-path="url(#tp7)"><g transform="translate(-42 3) scale(1)" fill="#fff"><ellipse cx="0" cy="4" rx="20" ry="9"/><circle cx="-9" cy="-1" r="9"/><circle cx="3" cy="-6" r="11"/><circle cx="13" cy="0" r="8"/></g><g transform="translate(28 -3) scale(1)" fill="#fff"><ellipse cx="0" cy="4" rx="20" ry="9"/><circle cx="-9" cy="-1" r="9"/><circle cx="3" cy="-6" r="11"/><circle cx="13" cy="0" r="8"/></g></g>
<path d="M-87.2 -25.8 L87.2 -25.8 L81.2 -17.2 L87.2 -8.6 L81.2 0 L87.2 8.6 L81.2 17.2 L87.2 25.8 L-87.2 25.8 L-81.2 17.2 L-87.2 8.6 L-81.2 0 L-87.2 -8.6 L-81.2 -17.2Z" fill="none" stroke="#1d1916" stroke-width="6" stroke-linejoin="round"/>
</g>
<g transform="translate(2554.5 401) rotate(28.4)">
<path d="M-85.5 -24.5 L85.5 -24.5 L79.5 -16.3 L85.5 -8.2 L79.5 0 L85.5 8.2 L79.5 16.3 L85.5 24.5 L-85.5 24.5 L-79.5 16.3 L-85.5 8.2 L-79.5 0 L-85.5 -8.2 L-79.5 -16.3Z" fill="#a9cdf0" stroke="#1d1916" stroke-width="6" stroke-linejoin="round"/>
<g clip-path="url(#tp8)"><g transform="translate(-42 3) scale(1)" fill="#fff"><ellipse cx="0" cy="4" rx="20" ry="9"/><circle cx="-9" cy="-1" r="9"/><circle cx="3" cy="-6" r="11"/><circle cx="13" cy="0" r="8"/></g><g transform="translate(28 -3) scale(1)" fill="#fff"><ellipse cx="0" cy="4" rx="20" ry="9"/><circle cx="-9" cy="-1" r="9"/><circle cx="3" cy="-6" r="11"/><circle cx="13" cy="0" r="8"/></g></g>
<path d="M-85.5 -24.5 L85.5 -24.5 L79.5 -16.3 L85.5 -8.2 L79.5 0 L85.5 8.2 L79.5 16.3 L85.5 24.5 L-85.5 24.5 L-79.5 16.3 L-85.5 8.2 L-79.5 0 L-85.5 -8.2 L-79.5 -16.3Z" fill="none" stroke="#1d1916" stroke-width="6" stroke-linejoin="round"/>
</g>
<g transform="translate(211.8 840) rotate(-45)">
<path d="M-89.5 -24.5 L89.5 -24.5 L83.5 -16.3 L89.5 -8.2 L83.5 0 L89.5 8.2 L83.5 16.3 L89.5 24.5 L-89.5 24.5 L-83.5 16.3 L-89.5 8.2 L-83.5 0 L-89.5 -8.2 L-83.5 -16.3Z" fill="#f7c351" stroke="#1d1916" stroke-width="6" stroke-linejoin="round"/>
<g clip-path="url(#tp9)"><g fill="none" stroke="#fff8e6" stroke-width="6" stroke-linecap="round" stroke-linejoin="round"><path d="M-50 0H40" stroke-dasharray="22 12"/><path d="M32 -12L52 0L32 12"/></g></g>
<path d="M-89.5 -24.5 L89.5 -24.5 L83.5 -16.3 L89.5 -8.2 L83.5 0 L89.5 8.2 L83.5 16.3 L89.5 24.5 L-89.5 24.5 L-83.5 16.3 L-89.5 8.2 L-83.5 0 L-89.5 -8.2 L-83.5 -16.3Z" fill="none" stroke="#1d1916" stroke-width="6" stroke-linejoin="round"/>
</g>
<g transform="translate(1320 837.4) rotate(45)">
<path d="M-87 -23 L87 -23 L81 -15.3 L87 -7.7 L81 0 L87 7.7 L81 15.3 L87 23 L-87 23 L-81 15.3 L-87 7.7 L-81 0 L-87 -7.7 L-81 -15.3Z" fill="#f7c351" stroke="#1d1916" stroke-width="6" stroke-linejoin="round"/>
<g clip-path="url(#tp10)"><g fill="none" stroke="#fff8e6" stroke-width="6" stroke-linecap="round" stroke-linejoin="round"><path d="M-50 0H40" stroke-dasharray="22 12"/><path d="M32 -12L52 0L32 12"/></g></g>
<path d="M-87 -23 L87 -23 L81 -15.3 L87 -7.7 L81 0 L87 7.7 L81 15.3 L87 23 L-87 23 L-81 15.3 L-87 7.7 L-81 0 L-87 -7.7 L-81 -15.3Z" fill="none" stroke="#1d1916" stroke-width="6" stroke-linejoin="round"/>
</g>
<g transform="translate(216.8 1331) rotate(42.7)">
<path d="M-91.5 -24 L91.5 -24 L85.5 -16 L91.5 -8 L85.5 0 L91.5 8 L85.5 16 L91.5 24 L-91.5 24 L-85.5 16 L-91.5 8 L-85.5 0 L-91.5 -8 L-85.5 -16Z" fill="#f7c351" stroke="#1d1916" stroke-width="6" stroke-linejoin="round"/>
<g clip-path="url(#tp11)"><g fill="none" stroke="#fff8e6" stroke-width="6" stroke-linecap="round" stroke-linejoin="round"><path d="M-50 0H40" stroke-dasharray="22 12"/><path d="M32 -12L52 0L32 12"/><path d="M-32 -12L-52 0L-32 12"/></g></g>
<path d="M-91.5 -24 L91.5 -24 L85.5 -16 L91.5 -8 L85.5 0 L91.5 8 L85.5 16 L91.5 24 L-91.5 24 L-85.5 16 L-91.5 8 L-85.5 0 L-91.5 -8 L-85.5 -16Z" fill="none" stroke="#1d1916" stroke-width="6" stroke-linejoin="round"/>
</g>
<g transform="translate(1315.2 1331.2) rotate(-43.3)">
<path d="M-90.5 -25 L90.5 -25 L84.5 -16.7 L90.5 -8.3 L84.5 0 L90.5 8.3 L84.5 16.7 L90.5 25 L-90.5 25 L-84.5 16.7 L-90.5 8.3 L-84.5 0 L-90.5 -8.3 L-84.5 -16.7Z" fill="#f7c351" stroke="#1d1916" stroke-width="6" stroke-linejoin="round"/>
<g clip-path="url(#tp12)"><g fill="none" stroke="#fff8e6" stroke-width="6" stroke-linecap="round" stroke-linejoin="round"><path d="M-50 0H40" stroke-dasharray="22 12"/><path d="M32 -12L52 0L32 12"/></g></g>
<path d="M-90.5 -25 L90.5 -25 L84.5 -16.7 L90.5 -8.3 L84.5 0 L90.5 8.3 L84.5 16.7 L90.5 25 L-90.5 25 L-84.5 16.7 L-90.5 8.3 L-84.5 0 L-90.5 -8.3 L-84.5 -16.7Z" fill="none" stroke="#1d1916" stroke-width="6" stroke-linejoin="round"/>
</g>
<g transform="translate(1548.5 803.3) rotate(-29.6)">
<path d="M-83.5 -24.5 L83.5 -24.5 L77.5 -16.3 L83.5 -8.2 L77.5 0 L83.5 8.2 L77.5 16.3 L83.5 24.5 L-83.5 24.5 L-77.5 16.3 L-83.5 8.2 L-77.5 0 L-83.5 -8.2 L-77.5 -16.3Z" fill="#93c978" stroke="#1d1916" stroke-width="6" stroke-linejoin="round"/>
<g clip-path="url(#tp13)"><path d="M-190 30 L-162 -30" stroke="#bfe39a" stroke-width="8"/><path d="M-168 30 L-140 -30" stroke="#bfe39a" stroke-width="8"/><path d="M-146 30 L-118 -30" stroke="#bfe39a" stroke-width="8"/><path d="M-124 30 L-96 -30" stroke="#bfe39a" stroke-width="8"/><path d="M-102 30 L-74 -30" stroke="#bfe39a" stroke-width="8"/><path d="M-80 30 L-52 -30" stroke="#bfe39a" stroke-width="8"/><path d="M-58 30 L-30 -30" stroke="#bfe39a" stroke-width="8"/><path d="M-36 30 L-8 -30" stroke="#bfe39a" stroke-width="8"/><path d="M-14 30 L14 -30" stroke="#bfe39a" stroke-width="8"/><path d="M8 30 L36 -30" stroke="#bfe39a" stroke-width="8"/><path d="M30 30 L58 -30" stroke="#bfe39a" stroke-width="8"/><path d="M52 30 L80 -30" stroke="#bfe39a" stroke-width="8"/><path d="M74 30 L102 -30" stroke="#bfe39a" stroke-width="8"/><path d="M96 30 L124 -30" stroke="#bfe39a" stroke-width="8"/><path d="M118 30 L146 -30" stroke="#bfe39a" stroke-width="8"/><path d="M140 30 L168 -30" stroke="#bfe39a" stroke-width="8"/><path d="M162 30 L190 -30" stroke="#bfe39a" stroke-width="8"/></g>
<path d="M-83.5 -24.5 L83.5 -24.5 L77.5 -16.3 L83.5 -8.2 L77.5 0 L83.5 8.2 L77.5 16.3 L83.5 24.5 L-83.5 24.5 L-77.5 16.3 L-83.5 8.2 L-77.5 0 L-83.5 -8.2 L-77.5 -16.3Z" fill="none" stroke="#1d1916" stroke-width="6" stroke-linejoin="round"/>
</g>
<g transform="translate(2606 801.5) rotate(29.2)">
<path d="M-83 -22.5 L83 -22.5 L77 -15 L83 -7.5 L77 0 L83 7.5 L77 15 L83 22.5 L-83 22.5 L-77 15 L-83 7.5 L-77 0 L-83 -7.5 L-77 -15Z" fill="#93c978" stroke="#1d1916" stroke-width="6" stroke-linejoin="round"/>
<g clip-path="url(#tp14)"><path d="M-190 30 L-162 -30" stroke="#bfe39a" stroke-width="8"/><path d="M-168 30 L-140 -30" stroke="#bfe39a" stroke-width="8"/><path d="M-146 30 L-118 -30" stroke="#bfe39a" stroke-width="8"/><path d="M-124 30 L-96 -30" stroke="#bfe39a" stroke-width="8"/><path d="M-102 30 L-74 -30" stroke="#bfe39a" stroke-width="8"/><path d="M-80 30 L-52 -30" stroke="#bfe39a" stroke-width="8"/><path d="M-58 30 L-30 -30" stroke="#bfe39a" stroke-width="8"/><path d="M-36 30 L-8 -30" stroke="#bfe39a" stroke-width="8"/><path d="M-14 30 L14 -30" stroke="#bfe39a" stroke-width="8"/><path d="M8 30 L36 -30" stroke="#bfe39a" stroke-width="8"/><path d="M30 30 L58 -30" stroke="#bfe39a" stroke-width="8"/><path d="M52 30 L80 -30" stroke="#bfe39a" stroke-width="8"/><path d="M74 30 L102 -30" stroke="#bfe39a" stroke-width="8"/><path d="M96 30 L124 -30" stroke="#bfe39a" stroke-width="8"/><path d="M118 30 L146 -30" stroke="#bfe39a" stroke-width="8"/><path d="M140 30 L168 -30" stroke="#bfe39a" stroke-width="8"/><path d="M162 30 L190 -30" stroke="#bfe39a" stroke-width="8"/></g>
<path d="M-83 -22.5 L83 -22.5 L77 -15 L83 -7.5 L77 0 L83 7.5 L77 15 L83 22.5 L-83 22.5 L-77 15 L-83 7.5 L-77 0 L-83 -7.5 L-77 -15Z" fill="none" stroke="#1d1916" stroke-width="6" stroke-linejoin="round"/>
</g>
<g transform="translate(1533.2 1190.4) rotate(-41.9)">
<path d="M-83 -23.8 L83 -23.8 L77 -15.8 L83 -7.9 L77 0 L83 7.9 L77 15.8 L83 23.8 L-83 23.8 L-77 15.8 L-83 7.9 L-77 0 L-83 -7.9 L-77 -15.8Z" fill="#f3c3d6" stroke="#1d1916" stroke-width="6" stroke-linejoin="round"/>
<g clip-path="url(#tp15)"><circle cx="8.2" cy="0" r="6.6" fill="#8f83cf"/><circle cx="2.5" cy="7.8" r="6.6" fill="#8f83cf"/><circle cx="-6.7" cy="4.8" r="6.6" fill="#8f83cf"/><circle cx="-6.7" cy="-4.8" r="6.6" fill="#8f83cf"/><circle cx="2.5" cy="-7.8" r="6.6" fill="#8f83cf"/><circle cx="0" cy="0" r="4.4" fill="#f7d34f"/><circle cx="-39" cy="4" r="4.8" fill="#f6a072"/><circle cx="-43.1" cy="9.7" r="4.8" fill="#f6a072"/><circle cx="-49.9" cy="7.5" r="4.8" fill="#f6a072"/><circle cx="-49.9" cy="0.5" r="4.8" fill="#f6a072"/><circle cx="-43.1" cy="-1.7" r="4.8" fill="#f6a072"/><circle cx="-45" cy="4" r="3.2" fill="#f9d77a"/><circle cx="51" cy="-4" r="4.8" fill="#f6a072"/><circle cx="46.9" cy="1.7" r="4.8" fill="#f6a072"/><circle cx="40.1" cy="-0.5" r="4.8" fill="#f6a072"/><circle cx="40.1" cy="-7.5" r="4.8" fill="#f6a072"/><circle cx="46.9" cy="-9.7" r="4.8" fill="#f6a072"/><circle cx="45" cy="-4" r="3.2" fill="#f9d77a"/><ellipse cx="-66" cy="-6" rx="9" ry="4.5" fill="#86c39a" transform="rotate(30 -66 -6)"/><ellipse cx="-62" cy="8" rx="9" ry="4.5" fill="#86c39a" transform="rotate(-25 -62 8)"/><ellipse cx="66" cy="6" rx="9" ry="4.5" fill="#86c39a" transform="rotate(-30 66 6)"/><ellipse cx="62" cy="-8" rx="9" ry="4.5" fill="#86c39a" transform="rotate(25 62 -8)"/></g>
<path d="M-83 -23.8 L83 -23.8 L77 -15.8 L83 -7.9 L77 0 L83 7.9 L77 15.8 L83 23.8 L-83 23.8 L-77 15.8 L-83 7.9 L-77 0 L-83 -7.9 L-77 -15.8Z" fill="none" stroke="#1d1916" stroke-width="6" stroke-linejoin="round"/>
</g>
<g transform="translate(1533.3 1442.3) rotate(40.1)">
<path d="M-83 -22.5 L83 -22.5 L77 -15 L83 -7.5 L77 0 L83 7.5 L77 15 L83 22.5 L-83 22.5 L-77 15 L-83 7.5 L-77 0 L-83 -7.5 L-77 -15Z" fill="#f3c3d6" stroke="#1d1916" stroke-width="6" stroke-linejoin="round"/>
<g clip-path="url(#tp16)"><circle cx="8.2" cy="0" r="6.6" fill="#8f83cf"/><circle cx="2.5" cy="7.8" r="6.6" fill="#8f83cf"/><circle cx="-6.7" cy="4.8" r="6.6" fill="#8f83cf"/><circle cx="-6.7" cy="-4.8" r="6.6" fill="#8f83cf"/><circle cx="2.5" cy="-7.8" r="6.6" fill="#8f83cf"/><circle cx="0" cy="0" r="4.4" fill="#f7d34f"/><circle cx="-39" cy="4" r="4.8" fill="#f6a072"/><circle cx="-43.1" cy="9.7" r="4.8" fill="#f6a072"/><circle cx="-49.9" cy="7.5" r="4.8" fill="#f6a072"/><circle cx="-49.9" cy="0.5" r="4.8" fill="#f6a072"/><circle cx="-43.1" cy="-1.7" r="4.8" fill="#f6a072"/><circle cx="-45" cy="4" r="3.2" fill="#f9d77a"/><circle cx="51" cy="-4" r="4.8" fill="#f6a072"/><circle cx="46.9" cy="1.7" r="4.8" fill="#f6a072"/><circle cx="40.1" cy="-0.5" r="4.8" fill="#f6a072"/><circle cx="40.1" cy="-7.5" r="4.8" fill="#f6a072"/><circle cx="46.9" cy="-9.7" r="4.8" fill="#f6a072"/><circle cx="45" cy="-4" r="3.2" fill="#f9d77a"/><ellipse cx="-66" cy="-6" rx="9" ry="4.5" fill="#86c39a" transform="rotate(30 -66 -6)"/><ellipse cx="-62" cy="8" rx="9" ry="4.5" fill="#86c39a" transform="rotate(-25 -62 8)"/><ellipse cx="66" cy="6" rx="9" ry="4.5" fill="#86c39a" transform="rotate(-30 66 6)"/><ellipse cx="62" cy="-8" rx="9" ry="4.5" fill="#86c39a" transform="rotate(25 62 -8)"/></g>
<path d="M-83 -22.5 L83 -22.5 L77 -15 L83 -7.5 L77 0 L83 7.5 L77 15 L83 22.5 L-83 22.5 L-77 15 L-83 7.5 L-77 0 L-83 -7.5 L-77 -15Z" fill="none" stroke="#1d1916" stroke-width="6" stroke-linejoin="round"/>
</g>
<g transform="translate(2611.3 1190) rotate(42)">
<path d="M-85 -22.5 L85 -22.5 L79 -15 L85 -7.5 L79 0 L85 7.5 L79 15 L85 22.5 L-85 22.5 L-79 15 L-85 7.5 L-79 0 L-85 -7.5 L-79 -15Z" fill="#f3c3d6" stroke="#1d1916" stroke-width="6" stroke-linejoin="round"/>
<g clip-path="url(#tp17)"><circle cx="8.2" cy="0" r="6.6" fill="#8f83cf"/><circle cx="2.5" cy="7.8" r="6.6" fill="#8f83cf"/><circle cx="-6.7" cy="4.8" r="6.6" fill="#8f83cf"/><circle cx="-6.7" cy="-4.8" r="6.6" fill="#8f83cf"/><circle cx="2.5" cy="-7.8" r="6.6" fill="#8f83cf"/><circle cx="0" cy="0" r="4.4" fill="#f7d34f"/><circle cx="-39" cy="4" r="4.8" fill="#f6a072"/><circle cx="-43.1" cy="9.7" r="4.8" fill="#f6a072"/><circle cx="-49.9" cy="7.5" r="4.8" fill="#f6a072"/><circle cx="-49.9" cy="0.5" r="4.8" fill="#f6a072"/><circle cx="-43.1" cy="-1.7" r="4.8" fill="#f6a072"/><circle cx="-45" cy="4" r="3.2" fill="#f9d77a"/><circle cx="51" cy="-4" r="4.8" fill="#f6a072"/><circle cx="46.9" cy="1.7" r="4.8" fill="#f6a072"/><circle cx="40.1" cy="-0.5" r="4.8" fill="#f6a072"/><circle cx="40.1" cy="-7.5" r="4.8" fill="#f6a072"/><circle cx="46.9" cy="-9.7" r="4.8" fill="#f6a072"/><circle cx="45" cy="-4" r="3.2" fill="#f9d77a"/><ellipse cx="-66" cy="-6" rx="9" ry="4.5" fill="#86c39a" transform="rotate(30 -66 -6)"/><ellipse cx="-62" cy="8" rx="9" ry="4.5" fill="#86c39a" transform="rotate(-25 -62 8)"/><ellipse cx="66" cy="6" rx="9" ry="4.5" fill="#86c39a" transform="rotate(-30 66 6)"/><ellipse cx="62" cy="-8" rx="9" ry="4.5" fill="#86c39a" transform="rotate(25 62 -8)"/></g>
<path d="M-85 -22.5 L85 -22.5 L79 -15 L85 -7.5 L79 0 L85 7.5 L79 15 L85 22.5 L-85 22.5 L-79 15 L-85 7.5 L-79 0 L-85 -7.5 L-79 -15Z" fill="none" stroke="#1d1916" stroke-width="6" stroke-linejoin="round"/>
</g>
<g transform="translate(2608.2 1433.8) rotate(-41.5)">
<path d="M-82 -22.5 L82 -22.5 L76 -15 L82 -7.5 L76 0 L82 7.5 L76 15 L82 22.5 L-82 22.5 L-76 15 L-82 7.5 L-76 0 L-82 -7.5 L-76 -15Z" fill="#f3c3d6" stroke="#1d1916" stroke-width="6" stroke-linejoin="round"/>
<g clip-path="url(#tp18)"><circle cx="8.2" cy="0" r="6.6" fill="#8f83cf"/><circle cx="2.5" cy="7.8" r="6.6" fill="#8f83cf"/><circle cx="-6.7" cy="4.8" r="6.6" fill="#8f83cf"/><circle cx="-6.7" cy="-4.8" r="6.6" fill="#8f83cf"/><circle cx="2.5" cy="-7.8" r="6.6" fill="#8f83cf"/><circle cx="0" cy="0" r="4.4" fill="#f7d34f"/><circle cx="-39" cy="4" r="4.8" fill="#f6a072"/><circle cx="-43.1" cy="9.7" r="4.8" fill="#f6a072"/><circle cx="-49.9" cy="7.5" r="4.8" fill="#f6a072"/><circle cx="-49.9" cy="0.5" r="4.8" fill="#f6a072"/><circle cx="-43.1" cy="-1.7" r="4.8" fill="#f6a072"/><circle cx="-45" cy="4" r="3.2" fill="#f9d77a"/><circle cx="51" cy="-4" r="4.8" fill="#f6a072"/><circle cx="46.9" cy="1.7" r="4.8" fill="#f6a072"/><circle cx="40.1" cy="-0.5" r="4.8" fill="#f6a072"/><circle cx="40.1" cy="-7.5" r="4.8" fill="#f6a072"/><circle cx="46.9" cy="-9.7" r="4.8" fill="#f6a072"/><circle cx="45" cy="-4" r="3.2" fill="#f9d77a"/><ellipse cx="-66" cy="-6" rx="9" ry="4.5" fill="#86c39a" transform="rotate(30 -66 -6)"/><ellipse cx="-62" cy="8" rx="9" ry="4.5" fill="#86c39a" transform="rotate(-25 -62 8)"/><ellipse cx="66" cy="6" rx="9" ry="4.5" fill="#86c39a" transform="rotate(-30 66 6)"/><ellipse cx="62" cy="-8" rx="9" ry="4.5" fill="#86c39a" transform="rotate(25 62 -8)"/></g>
<path d="M-82 -22.5 L82 -22.5 L76 -15 L82 -7.5 L76 0 L82 7.5 L76 15 L82 22.5 L-82 22.5 L-76 15 L-82 7.5 L-76 0 L-82 -7.5 L-76 -15Z" fill="none" stroke="#1d1916" stroke-width="6" stroke-linejoin="round"/>
</g>
<g transform="translate(386 524.5) rotate(-22)"><ellipse rx="27" ry="35.5" fill="#8d5a3a" stroke="#1d1916" stroke-width="5.5"/><path d="M4 -32.7 C-14.9 -12.4 14.9 10.7 -3.2 33" fill="none" stroke="#1d1916" stroke-width="4.95" stroke-linecap="round"/></g>
<g transform="translate(454.7 563.3) rotate(27)"><ellipse rx="26" ry="36" fill="#8d5a3a" stroke="#1d1916" stroke-width="5.5"/><path d="M3.9 -33.1 C-14.3 -12.6 14.3 10.8 -3.1 33.5" fill="none" stroke="#1d1916" stroke-width="4.95" stroke-linecap="round"/></g>
<g transform="translate(374.5 597.5) rotate(98)"><ellipse rx="26" ry="35" fill="#8d5a3a" stroke="#1d1916" stroke-width="5.5"/><path d="M3.9 -32.2 C-14.3 -12.2 14.3 10.5 -3.1 32.6" fill="none" stroke="#1d1916" stroke-width="4.95" stroke-linecap="round"/></g>
<g transform="translate(320 460) scale(0.20964)" stroke-linejoin="round" stroke-linecap="round" ><ellipse cx="2057" cy="715" rx="290" ry="66" fill="#f1efee" stroke="#1d1916" stroke-width="24"/><ellipse cx="2057" cy="712" rx="150" ry="22" fill="#d9d6d3"/><path d="M2270 395 C2440 350 2470 560 2250 600" fill="none" stroke="#1d1916" stroke-width="70" /><path d="M2270 395 C2440 350 2470 560 2250 600" fill="none" stroke="#f3f1ef" stroke-width="26" /><path d="M1842 367 C1850 560 1900 715 2057 715 C2215 715 2265 560 2273 367 Z" fill="#f3f1ef" stroke="#1d1916" stroke-width="24" /><clipPath id="espc"><path d="M1880 400 C1890 560 1930 680 2057 680 C2185 680 2225 560 2235 400 Z"/></clipPath><g clip-path="url(#espc)"><rect x="1850" y="436" width="420" height="62" fill="#efc27a"/><rect x="1850" y="494" width="420" height="200" fill="#8a5537"/></g><path d="M1884 494 H2228 C2215 600 2170 675 2057 675 C1945 675 1900 600 1884 494Z" fill="none" stroke="#1d1916" stroke-width="20" /><ellipse cx="2057" cy="367" rx="216" ry="42" fill="#f5f3f1" stroke="#1d1916" stroke-width="24"/><path d="M1955 150 C1915 187.5 1995 225.0 1955 275" fill="none" stroke="#1d1916" stroke-width="17" /><path d="M2055 105 C2015 154.5 2095 204.0 2055 270" fill="none" stroke="#1d1916" stroke-width="17" /><path d="M2155 150 C2115 188.4 2195 226.8 2155 278" fill="none" stroke="#1d1916" stroke-width="17" /></g>
<g transform="translate(1040 460) scale(0.12811)" stroke-linejoin="round" stroke-linecap="round" ><path d="M435 440 C470 470 440 530 380 530 C280 530 225 420 260 320 C300 200 420 140 530 145 C700 150 820 270 815 440 C810 600 700 720 600 800 C480 900 400 1000 395 1100 C392 1180 430 1240 470 1280 C350 1220 260 1090 255 950 C250 800 380 720 470 640 C540 575 580 500 570 430 C562 380 510 345 455 350 C420 355 395 380 400 410" fill="#f2ebe4" stroke="#1d1916" stroke-width="30" /><path d="M330 300 C380 220 500 200 600 240 C700 290 720 420 680 520 C640 620 520 700 440 790 C370 870 330 980 360 1100" fill="none" stroke="#ddd5cc" stroke-width="26" opacity="0.7"/><path d="M880 740 C870 690 900 650 950 660 C1040 680 1090 780 1060 880 C1030 980 900 1020 800 1060 C700 1100 640 1180 630 1280 C580 1200 570 1090 620 1030 C680 960 800 920 880 870 C950 825 960 740 920 690" fill="#f2ebe4" stroke="#1d1916" stroke-width="30" /></g>
<g transform="translate(1550 470) scale(0.16372)" stroke-linejoin="round" stroke-linecap="round" ><path d="M360 222 C310 135 160 150 140 300 C132 365 150 400 175 435" fill="none" stroke="#1d1916" stroke-width="84" /><path d="M360 222 C310 135 160 150 140 300 C132 365 150 400 175 435" fill="none" stroke="#7c7e84" stroke-width="34" /><path d="M560 708 L680 675 C745 655 790 485 880 436 C925 412 968 432 962 474" fill="none" stroke="#1d1916" stroke-width="66" stroke-linecap="butt"/><path d="M560 708 L680 675 C745 655 790 485 880 436 C925 412 968 432 962 474" fill="none" stroke="#eef0f3" stroke-width="22" stroke-linecap="butt"/><path d="M410 185 L120 505 Q95 540 135 565 L505 775 Q545 790 558 750 L678 330 Q695 262 640 232 Z" fill="#d2d4da" stroke="#1d1916" stroke-width="30" /><path d="M432 178 C480 125 630 150 676 268 L660 300 L418 192 Z" fill="#d7d9de" stroke="#1d1916" stroke-width="28" /><circle cx="600" cy="140" r="38" fill="#8a8a90" stroke="#1d1916" stroke-width="26"/><path d="M375 300 L215 515" fill="none" stroke="#f1f3f6" stroke-width="34" /><path d="M985 520 C1040 580 1045 665 993 668 C940 665 945 580 985 520Z" fill="#8b5a3c" stroke="#1d1916" stroke-width="26" /><path d="M890 865 C860 960 790 1080 795 1180 Q800 1262 870 1262 H1250 Q1325 1262 1328 1180 C1330 1080 1255 960 1225 865 Z" fill="#dcedf7" stroke="#1d1916" stroke-width="28" /><clipPath id="carc"><path d="M890 865 C860 960 790 1080 795 1180 Q800 1262 870 1262 H1250 Q1325 1262 1328 1180 C1330 1080 1255 960 1225 865 Z"/></clipPath><g clip-path="url(#carc)"><path d="M800 1085 C900 1020 1000 1050 1100 1080 C1180 1100 1250 1095 1340 1070 V1228 H800Z" fill="#8b5a3c"/></g><path d="M890 865 C860 960 790 1080 795 1180 Q800 1262 870 1262 H1250 Q1325 1262 1328 1180 C1330 1080 1255 960 1225 865 Z" fill="none" stroke="#1d1916" stroke-width="28" /><path d="M1140 942 L1190 930 M1158 997 L1203 985 M1190 1048 L1225 1036" fill="none" stroke="#1d1916" stroke-width="14" /><path d="M1238 828 H1310 C1370 828 1385 900 1400 960 L1420 1065" fill="none" stroke="#1d1916" stroke-width="80" /><path d="M1238 828 H1310 C1370 828 1385 900 1400 960 L1420 1065" fill="none" stroke="#80868b" stroke-width="30" /><path d="M845 725 H1245 L1225 792 H880 Z" fill="#e6f2fa" stroke="#1d1916" stroke-width="26" /><rect x="878" y="790" width="358" height="75" fill="#80868b" stroke="#1d1916" stroke-width="26"/></g>
<g transform="translate(1800 490) scale(0.14235)" stroke-linejoin="round" stroke-linecap="round" ><rect x="245" y="490" width="880" height="580" fill="#a6a9af" stroke="#1d1916" stroke-width="32"/><path d="M245 1050 H1125 L1200 1130 H170 Z" fill="#b9bcc1" stroke="#1d1916" stroke-width="30" /><rect x="162" y="1128" width="1042" height="180" rx="36" fill="#d6d6db" stroke="#1d1916" stroke-width="32"/><rect x="162" y="132" width="1042" height="372" rx="55" fill="#d6d6db" stroke="#1d1916" stroke-width="32"/><circle cx="293" cy="315" r="36" fill="#d9504a" stroke="#1d1916" stroke-width="26"/><circle cx="428" cy="315" r="33" fill="#9c9c84" stroke="#1d1916" stroke-width="26"/><circle cx="683" cy="320" r="100" fill="#fafafa" stroke="#1d1916" stroke-width="30"/><path d="M680 322 L735 262" fill="none" stroke="#1d1916" stroke-width="22" /><circle cx="1010" cy="315" r="76" fill="#8e95a0" stroke="#1d1916" stroke-width="28"/><path d="M1010 290 L1040 245 M1075 225 L1090 240" fill="none" stroke="#1d1916" stroke-width="20" /><rect x="500" y="518" width="380" height="84" rx="16" fill="#d6d6db" stroke="#1d1916" stroke-width="28"/><path d="M565 618 H805 L780 705 H590 Z" fill="#d6d6db" stroke="#1d1916" stroke-width="28" /><path d="M622 722 H738 L728 775 H632 Z" fill="#d6d6db" stroke="#1d1916" stroke-width="26" /><path d="M965 520 V590 C965 640 1022 650 1025 720" fill="none" stroke="#1d1916" stroke-width="66" /><path d="M965 520 V590 C965 640 1022 650 1025 720" fill="none" stroke="#c9ccd1" stroke-width="22" /><rect x="994" y="722" width="62" height="180" rx="28" fill="#c9ccd1" stroke="#1d1916" stroke-width="26"/><path d="M820 905 C910 880 930 990 815 1010" fill="none" stroke="#1d1916" stroke-width="58" /><path d="M820 905 C910 880 930 990 815 1010" fill="none" stroke="#b0b3b8" stroke-width="16" /><path d="M540 878 H830 C830 1000 780 1085 685 1085 C590 1085 540 1000 540 878Z" fill="#f6e3a8" stroke="#1d1916" stroke-width="30" /></g>
<g transform="translate(240 900) scale(0.20636)" stroke-linejoin="round" stroke-linecap="round" ><path d="M460.5 906 V225 A122.5 122.5 0 0 1 705.5 225 V906 A225 225 0 1 1 460.5 906Z" fill="#cfe8f5" stroke="#1d1916" stroke-width="30" /><path d="M543 1000 V460 A40 40 0 0 1 623 460 V1000 A120 120 0 1 1 543 1000Z" fill="#ee7b7f" stroke="#1d1916" stroke-width="28" /><path d="M520 1060 C530 1040 545 1030 560 1025" fill="none" stroke="#fbd3d3" stroke-width="14" /><path d="M512 240 V420" fill="none" stroke="#eef8fd" stroke-width="16" /><path d="M780 272 H870" fill="none" stroke="#1d1916" stroke-width="22" /><path d="M780 358 H830" fill="none" stroke="#1d1916" stroke-width="22" /><path d="M780 443 H860" fill="none" stroke="#1d1916" stroke-width="22" /><path d="M780 530 H830" fill="none" stroke="#1d1916" stroke-width="22" /><path d="M780 615 H835" fill="none" stroke="#1d1916" stroke-width="22" /><path d="M780 698 H865" fill="none" stroke="#1d1916" stroke-width="22" /><path d="M780 785 H830" fill="none" stroke="#1d1916" stroke-width="22" /><path d="M780 870 H870" fill="none" stroke="#1d1916" stroke-width="22" /><path d="M160 230 C60 310 150 400 128 510 C240 440 235 360 190 310 C168 285 160 258 160 230Z" fill="#b5b9be" stroke="#1d1916" stroke-width="24" /><path d="M305 125 C190 215 290 330 283 455 C400 370 390 285 335 225 C312 195 303 160 305 125Z" fill="#b5b9be" stroke="#1d1916" stroke-width="24" /></g>
<path d="M486 1039 H549 V1016.5 L600 1058.25 L549 1100 V1075 H486 Z" fill="#f6ad5f" stroke="#1d1916" stroke-width="6" stroke-linejoin="round"/>
<path d="M871.5 1039 H934.5 V1016.5 L986 1058.25 L934.5 1100 V1075 H871.5 Z" fill="#f6ad5f" stroke="#1d1916" stroke-width="6" stroke-linejoin="round"/>
<g transform="translate(630 900) scale(0.20648)" stroke-linejoin="round" stroke-linecap="round" ><rect x="455" y="215" width="90" height="200" rx="16" fill="#b5b7bc" stroke="#1d1916" stroke-width="28"/><rect x="787" y="78" width="96" height="150" rx="34" fill="#a8623c" stroke="#1d1916" stroke-width="28"/><path d="M440 315 L600 315 C665 315 655 250 720 250 L888 250" fill="none" stroke="#1d1916" stroke-width="84" /><path d="M440 315 L600 315 C665 315 655 250 720 250 L888 250" fill="none" stroke="#c3c5ca" stroke-width="30" /><path d="M285 738 Q290 680 360 665 L650 665 Q715 680 720 738 Z" fill="#c9cbd0" stroke="#1d1916" stroke-width="28" /><path d="M235 395 L765 395 Q795 395 790 430 C780 540 720 630 650 662 L350 662 C280 630 220 540 210 430 Q205 395 235 395 Z" fill="#c5c8cd" stroke="#1d1916" stroke-width="28" /><path d="M298 490 C305 540 335 580 372 600" fill="none" stroke="#f4f5f7" stroke-width="18" /><rect x="152" y="810" width="692" height="420" fill="#aa7652" stroke="#1d1916" stroke-width="28"/><rect x="112" y="742" width="776" height="84" rx="24" fill="#b8825b" stroke="#1d1916" stroke-width="28"/><rect x="112" y="1215" width="776" height="94" rx="24" fill="#b8825b" stroke="#1d1916" stroke-width="28"/><rect x="257" y="917" width="486" height="216" rx="20" fill="#a06c48" stroke="#1d1916" stroke-width="28"/><circle cx="498" cy="1022" r="38" fill="#9a6a48" stroke="#1d1916" stroke-width="26"/></g>
<g transform="translate(1010 900) scale(0.19933)" stroke-linejoin="round" stroke-linecap="round" ><rect x="503" y="1180" width="190" height="160" fill="#c9cbd0"/><path d="M503 1185 V1335 M693 1185 V1335" fill="none" stroke="#1d1916" stroke-width="28" /><rect x="457" y="1080" width="282" height="106" rx="22" fill="#a9acb0" stroke="#1d1916" stroke-width="28"/><circle cx="597" cy="600" r="498" fill="#b9bbbf" stroke="#1d1916" stroke-width="30"/><circle cx="597" cy="600" r="452" fill="none" stroke="#d0d2d5" stroke-width="30"/><circle cx="597" cy="600" r="397" fill="#d6eaf5" stroke="#1d1916" stroke-width="28"/><path d="M321.5 807.6 A345 345 0 0 1 252 600 L347 600 A250 250 0 0 0 397.3 750.5Z" fill="#7dbf6a" stroke="#1d1916" stroke-width="22" /><path d="M252 600 A345 345 0 0 1 366.1 343.6 L429.7 414.2 A250 250 0 0 0 347 600Z" fill="#8cc66f" stroke="#1d1916" stroke-width="22" /><path d="M366.1 343.6 A345 345 0 0 1 597 255 L597 350 A250 250 0 0 0 429.7 414.2Z" fill="#f0d65a" stroke="#1d1916" stroke-width="22" /><path d="M597 255 A345 345 0 0 1 836.7 351.8 L770.7 420.2 A250 250 0 0 0 597 350Z" fill="#f0d65a" stroke="#1d1916" stroke-width="22" /><path d="M836.7 351.8 A345 345 0 0 1 942 600 L847 600 A250 250 0 0 0 770.7 420.2Z" fill="#f0706a" stroke="#1d1916" stroke-width="22" /><path d="M942 600 A345 345 0 0 1 872.5 807.6 L796.7 750.5 A250 250 0 0 0 847 600Z" fill="#f0706a" stroke="#1d1916" stroke-width="22" /><path d="M760 430 L835 372" fill="none" stroke="#fdf3f0" stroke-width="14" /><path d="M484 697 C540 690 600 650 625 630 C680 590 730 510 752 455 C700 490 620 540 575 572 C540 600 500 650 484 697Z" fill="#e8695f" stroke="#1d1916" stroke-width="22" /><circle cx="597" cy="600" r="52" fill="#808488" stroke="#1d1916" stroke-width="24"/></g>
<text x="442.4" y="454.5" font-size="52" font-weight="400" fill="#1d1916" font-family="'Noto Sans CJK TC','Liberation Sans',sans-serif" textLength="52" lengthAdjust="spacingAndGlyphs" stroke="#1d1916" stroke-width="2.7" stroke-linejoin="round" >【</text>
<text x="531" y="456" font-size="56" font-weight="700" fill="#1d1916" font-family="'Noto Sans CJK TC','Liberation Sans',sans-serif" text-anchor="middle" stroke="#1d1916" stroke-width="0.8" stroke-linejoin="round" >1</text>
<text x="562.8" y="454.5" font-size="52" font-weight="400" fill="#1d1916" font-family="'Noto Sans CJK TC','Liberation Sans',sans-serif" textLength="52" lengthAdjust="spacingAndGlyphs" stroke="#1d1916" stroke-width="2.7" stroke-linejoin="round" >】</text>
<text x="615" y="456" font-size="56" font-weight="400" fill="#1d1916" font-family="'Noto Sans CJK TC','Liberation Sans',sans-serif" textLength="452" lengthAdjust="spacingAndGlyphs" stroke="#1d1916" stroke-width="2.9" stroke-linejoin="round" >義式咖啡基本概念</text>
<text x="1727.7" y="454.5" font-size="52" font-weight="400" fill="#1d1916" font-family="'Noto Sans CJK TC','Liberation Sans',sans-serif" textLength="52" lengthAdjust="spacingAndGlyphs" stroke="#1d1916" stroke-width="2.7" stroke-linejoin="round" >【</text>
<text x="1811" y="456" font-size="56" font-weight="700" fill="#1d1916" font-family="'Noto Sans CJK TC','Liberation Sans',sans-serif" text-anchor="middle" stroke="#1d1916" stroke-width="0.8" stroke-linejoin="round" >2</text>
<text x="1846.5" y="454.5" font-size="52" font-weight="400" fill="#1d1916" font-family="'Noto Sans CJK TC','Liberation Sans',sans-serif" textLength="52" lengthAdjust="spacingAndGlyphs" stroke="#1d1916" stroke-width="2.7" stroke-linejoin="round" >】</text>
<text x="1901" y="456" font-size="56" font-weight="400" fill="#1d1916" font-family="'Noto Sans CJK TC','Liberation Sans',sans-serif" textLength="112" lengthAdjust="spacingAndGlyphs" stroke="#1d1916" stroke-width="2.9" stroke-linejoin="round" >手沖</text>
<text x="2033" y="456" font-size="56" font-weight="700" fill="#1d1916" font-family="'Noto Sans CJK TC','Liberation Sans',sans-serif" textLength="59" lengthAdjust="spacingAndGlyphs" stroke="#1d1916" stroke-width="0.8" stroke-linejoin="round" >vs</text>
<text x="2114" y="456" font-size="56" font-weight="400" fill="#1d1916" font-family="'Noto Sans CJK TC','Liberation Sans',sans-serif" textLength="224" lengthAdjust="spacingAndGlyphs" stroke="#1d1916" stroke-width="2.9" stroke-linejoin="round" >義式差別</text>
<text x="380.3" y="869" font-size="52" font-weight="400" fill="#1d1916" font-family="'Noto Sans CJK TC','Liberation Sans',sans-serif" textLength="52" lengthAdjust="spacingAndGlyphs" stroke="#1d1916" stroke-width="2.7" stroke-linejoin="round" >【</text>
<text x="467" y="870.5" font-size="56" font-weight="700" fill="#1d1916" font-family="'Noto Sans CJK TC','Liberation Sans',sans-serif" text-anchor="middle" stroke="#1d1916" stroke-width="0.8" stroke-linejoin="round" >3</text>
<text x="499.3" y="869" font-size="52" font-weight="400" fill="#1d1916" font-family="'Noto Sans CJK TC','Liberation Sans',sans-serif" textLength="52" lengthAdjust="spacingAndGlyphs" stroke="#1d1916" stroke-width="2.7" stroke-linejoin="round" >】</text>
<text x="551" y="870.5" font-size="56" font-weight="400" fill="#1d1916" font-family="'Noto Sans CJK TC','Liberation Sans',sans-serif" textLength="224" lengthAdjust="spacingAndGlyphs" stroke="#1d1916" stroke-width="2.9" stroke-linejoin="round" >義式濃縮</text>
<text x="796" y="870.5" font-size="56" font-weight="700" fill="#1d1916" font-family="'Noto Sans CJK TC','Liberation Sans',sans-serif" textLength="31" lengthAdjust="spacingAndGlyphs" stroke="#1d1916" stroke-width="0.8" stroke-linejoin="round" >3</text>
<text x="848.5" y="870.5" font-size="56" font-weight="400" fill="#1d1916" font-family="'Noto Sans CJK TC','Liberation Sans',sans-serif" textLength="279" lengthAdjust="spacingAndGlyphs" stroke="#1d1916" stroke-width="2.9" stroke-linejoin="round" >大核心參數</text>
<text x="1705.4" y="845" font-size="52" font-weight="400" fill="#1d1916" font-family="'Noto Sans CJK TC','Liberation Sans',sans-serif" textLength="52" lengthAdjust="spacingAndGlyphs" stroke="#1d1916" stroke-width="2.7" stroke-linejoin="round" >【</text>
<text x="1793" y="846.5" font-size="56" font-weight="700" fill="#1d1916" font-family="'Noto Sans CJK TC','Liberation Sans',sans-serif" text-anchor="middle" stroke="#1d1916" stroke-width="0.8" stroke-linejoin="round" >4</text>
<text x="1826.5" y="845" font-size="52" font-weight="400" fill="#1d1916" font-family="'Noto Sans CJK TC','Liberation Sans',sans-serif" textLength="52" lengthAdjust="spacingAndGlyphs" stroke="#1d1916" stroke-width="2.7" stroke-linejoin="round" >】</text>
<text x="1881" y="846.5" font-size="56" font-weight="400" fill="#1d1916" font-family="'Noto Sans CJK TC','Liberation Sans',sans-serif" textLength="563" lengthAdjust="spacingAndGlyphs" stroke="#1d1916" stroke-width="2.9" stroke-linejoin="round" >常見義式花式咖啡比例</text>
<text x="1775" y="1229.5" font-size="52" font-weight="400" fill="#1d1916" font-family="'Noto Sans CJK TC','Liberation Sans',sans-serif" textLength="52" lengthAdjust="spacingAndGlyphs" stroke="#1d1916" stroke-width="2.7" stroke-linejoin="round" >【</text>
<text x="1864" y="1231" font-size="56" font-weight="700" fill="#1d1916" font-family="'Noto Sans CJK TC','Liberation Sans',sans-serif" text-anchor="middle" stroke="#1d1916" stroke-width="0.8" stroke-linejoin="round" >5</text>
<text x="1897.8" y="1229.5" font-size="52" font-weight="400" fill="#1d1916" font-family="'Noto Sans CJK TC','Liberation Sans',sans-serif" textLength="52" lengthAdjust="spacingAndGlyphs" stroke="#1d1916" stroke-width="2.7" stroke-linejoin="round" >】</text>
<text x="1950.5" y="1231" font-size="56" font-weight="400" fill="#1d1916" font-family="'Noto Sans CJK TC','Liberation Sans',sans-serif" textLength="397" lengthAdjust="spacingAndGlyphs" stroke="#1d1916" stroke-width="2.9" stroke-linejoin="round" >居家咖啡小技巧</text>
<text x="308" y="694" font-size="50" font-weight="400" fill="#1d1916" font-family="'Noto Sans CJK TC','Liberation Sans',sans-serif" textLength="221" lengthAdjust="spacingAndGlyphs" stroke="#1d1916" stroke-width="2.6" stroke-linejoin="round" >Espresso</text>
<text x="528.4" y="694" font-size="50" font-weight="400" fill="#1d1916" font-family="'Noto Sans CJK TC','Liberation Sans',sans-serif" textLength="193" lengthAdjust="spacingAndGlyphs" stroke="#1d1916" stroke-width="2.6" stroke-linejoin="round" >是什麼？</text>
<text x="721" y="694" font-size="50" font-weight="400" fill="#1d1916" font-family="'Noto Sans CJK TC','Liberation Sans',sans-serif" textLength="250" lengthAdjust="spacingAndGlyphs" stroke="#1d1916" stroke-width="2.6" stroke-linejoin="round" >風味特點？</text>
<text x="991" y="694" font-size="50" font-weight="400" fill="#1d1916" font-family="'Noto Sans CJK TC','Liberation Sans',sans-serif" textLength="250" lengthAdjust="spacingAndGlyphs" stroke="#1d1916" stroke-width="2.6" stroke-linejoin="round" >適合誰喝？</text>
<text x="2109.6" y="538" font-size="47" font-weight="400" fill="#1d1916" font-family="'Noto Sans CJK TC','Liberation Sans',sans-serif" textLength="376" lengthAdjust="spacingAndGlyphs" stroke="#1d1916" stroke-width="2.4" stroke-linejoin="round" >手沖：清爽層次感</text>
<path d="M2050 520 L2065.2 537 L2090 503" fill="none" stroke="#1d1916" stroke-width="8.5" stroke-linecap="round" stroke-linejoin="round"/>
<text x="2109.6" y="605.2" font-size="47" font-weight="400" fill="#1d1916" font-family="'Noto Sans CJK TC','Liberation Sans',sans-serif" textLength="376" lengthAdjust="spacingAndGlyphs" stroke="#1d1916" stroke-width="2.4" stroke-linejoin="round" >義式：濃郁油脂感</text>
<path d="M2050 587.2 L2065.2 604.2 L2090 570.2" fill="none" stroke="#1d1916" stroke-width="8.5" stroke-linecap="round" stroke-linejoin="round"/>
<text x="2109.6" y="672.4" font-size="47" font-weight="400" fill="#1d1916" font-family="'Noto Sans CJK TC','Liberation Sans',sans-serif" textLength="329" lengthAdjust="spacingAndGlyphs" stroke="#1d1916" stroke-width="2.4" stroke-linejoin="round" >製作原理不同！</text>
<path d="M2050 654.4 L2065.2 671.4 L2090 637.4" fill="none" stroke="#1d1916" stroke-width="8.5" stroke-linecap="round" stroke-linejoin="round"/>
<text x="252" y="1257" font-size="52" font-weight="400" fill="#1d1916" font-family="'Noto Sans CJK TC','DejaVu Sans',sans-serif" stroke="#1d1916" stroke-width="2.7" stroke-linejoin="round" >★</text>
<text x="318.5" y="1255" font-size="58" font-weight="400" fill="#1d1916" font-family="'Noto Sans CJK TC','Liberation Sans',sans-serif" textLength="116" lengthAdjust="spacingAndGlyphs" stroke="#1d1916" stroke-width="3" stroke-linejoin="round" >溫度</text>
<text x="611" y="1257" font-size="52" font-weight="400" fill="#1d1916" font-family="'Noto Sans CJK TC','DejaVu Sans',sans-serif" stroke="#1d1916" stroke-width="2.7" stroke-linejoin="round" >★</text>
<text x="677" y="1255" font-size="58" font-weight="400" fill="#1d1916" font-family="'Noto Sans CJK TC','Liberation Sans',sans-serif" textLength="174" lengthAdjust="spacingAndGlyphs" stroke="#1d1916" stroke-width="3" stroke-linejoin="round" >研磨度</text>
<text x="988" y="1245" font-size="52" font-weight="400" fill="#1d1916" font-family="'Noto Sans CJK TC','DejaVu Sans',sans-serif" stroke="#1d1916" stroke-width="2.7" stroke-linejoin="round" >★</text>
<text x="1055" y="1242.5" font-size="57" font-weight="700" fill="#1d1916" font-family="'Noto Sans CJK TC','Liberation Sans',sans-serif" textLength="147" lengthAdjust="spacingAndGlyphs" stroke="#1d1916" stroke-width="1" stroke-linejoin="round" >9 Bar</text>
<text x="1073" y="1313" font-size="57" font-weight="400" fill="#1d1916" font-family="'Noto Sans CJK TC','Liberation Sans',sans-serif" textLength="109" lengthAdjust="spacingAndGlyphs" stroke="#1d1916" stroke-width="3" stroke-linejoin="round" >壓力</text>
<text transform="translate(456 959.5) rotate(12)" x="0" y="34" font-size="98.6" font-weight="700" font-family="'Liberation Serif','DejaVu Serif',serif" text-anchor="middle" stroke-linejoin="round" fill="#ef7372" stroke="#1d1916" stroke-width="10" paint-order="stroke">!</text>
<text transform="translate(1275.5 988) rotate(12)" x="0" y="32.5" font-size="94.2" font-weight="700" font-family="'Liberation Serif','DejaVu Serif',serif" text-anchor="middle" stroke-linejoin="round" fill="#ef7372" stroke="#1d1916" stroke-width="10" paint-order="stroke">!</text>
<text transform="translate(465.5 1229.5) rotate(12)" x="0" y="27" font-size="78.3" font-weight="700" font-family="'Liberation Serif','DejaVu Serif',serif" text-anchor="middle" stroke-linejoin="round" fill="#f29a55" stroke="#1d1916" stroke-width="10" paint-order="stroke">!</text>
<text transform="translate(1219 1286) rotate(12)" x="0" y="27.5" font-size="79.7" font-weight="700" font-family="'Liberation Serif','DejaVu Serif',serif" text-anchor="middle" stroke-linejoin="round" fill="#f29a55" stroke="#1d1916" stroke-width="10" paint-order="stroke">!</text>
<text x="1869" y="943.5" font-size="26" font-weight="700" fill="#1d1916" font-family="'Noto Sans CJK TC','Liberation Sans',sans-serif" textLength="65" lengthAdjust="spacingAndGlyphs" stroke="#1d1916" stroke-width="0.6" stroke-linejoin="round" >Foam</text>
<text x="1869" y="974.8" font-size="26" font-weight="700" fill="#1d1916" font-family="'Noto Sans CJK TC','Liberation Sans',sans-serif" textLength="49.5" lengthAdjust="spacingAndGlyphs" stroke="#1d1916" stroke-width="0.6" stroke-linejoin="round" >Milk</text>
<text x="1857.5" y="1007.5" font-size="26" font-weight="700" fill="#1d1916" font-family="'Noto Sans CJK TC','Liberation Sans',sans-serif" textLength="105" lengthAdjust="spacingAndGlyphs" stroke="#1d1916" stroke-width="0.6" stroke-linejoin="round" >Espresso</text>
<text x="2524" y="923.6" font-size="26" font-weight="700" fill="#1d1916" font-family="'Noto Sans CJK TC','Liberation Sans',sans-serif" textLength="78.5" lengthAdjust="spacingAndGlyphs" stroke="#1d1916" stroke-width="0.6" stroke-linejoin="round" >Cream</text>
<text x="2531.5" y="969" font-size="26" font-weight="700" fill="#1d1916" font-family="'Noto Sans CJK TC','Liberation Sans',sans-serif" textLength="49.5" lengthAdjust="spacingAndGlyphs" stroke="#1d1916" stroke-width="0.6" stroke-linejoin="round" >Milk</text>
<text x="2505.5" y="1010.4" font-size="26" font-weight="700" fill="#1d1916" font-family="'Noto Sans CJK TC','Liberation Sans',sans-serif" textLength="119" lengthAdjust="spacingAndGlyphs" stroke="#1d1916" stroke-width="0.6" stroke-linejoin="round" >Chocolate</text>
<text x="1685" y="1072.5" font-size="44" font-weight="400" fill="#1d1916" font-family="'Noto Sans CJK TC','Liberation Sans',sans-serif" textLength="88" lengthAdjust="spacingAndGlyphs" stroke="#1d1916" stroke-width="2.3" stroke-linejoin="round" >拿鐵</text>
<text x="1994.5" y="1072.5" font-size="43" font-weight="400" fill="#1d1916" font-family="'Noto Sans CJK TC','Liberation Sans',sans-serif" textLength="172" lengthAdjust="spacingAndGlyphs" stroke="#1d1916" stroke-width="2.2" stroke-linejoin="round" >卡布奇諾</text>
<text x="2339" y="1072.5" font-size="44" font-weight="400" fill="#1d1916" font-family="'Noto Sans CJK TC','Liberation Sans',sans-serif" textLength="86" lengthAdjust="spacingAndGlyphs" stroke="#1d1916" stroke-width="2.3" stroke-linejoin="round" >摩卡</text>
<text x="1727.6" y="1102" font-size="29" font-weight="700" fill="#1d1916" font-family="'Noto Sans CJK TC','Liberation Sans',sans-serif" text-anchor="middle" textLength="68" lengthAdjust="spacingAndGlyphs" stroke="#1d1916" stroke-width="0.3" stroke-linejoin="round" >Latte</text>
<text x="2079.2" y="1102" font-size="29" font-weight="700" fill="#1d1916" font-family="'Noto Sans CJK TC','Liberation Sans',sans-serif" text-anchor="middle" textLength="154" lengthAdjust="spacingAndGlyphs" stroke="#1d1916" stroke-width="0.3" stroke-linejoin="round" >Cappuccino</text>
<text x="2382.2" y="1102" font-size="29" font-weight="700" fill="#1d1916" font-family="'Noto Sans CJK TC','Liberation Sans',sans-serif" text-anchor="middle" textLength="83.5" lengthAdjust="spacingAndGlyphs" stroke="#1d1916" stroke-width="0.3" stroke-linejoin="round" >Mocha</text>
<text x="2244.5" y="970.5" font-size="26" font-weight="400" fill="#1d1916" font-family="'Noto Sans CJK TC','Liberation Sans',sans-serif" text-anchor="middle" stroke="#1d1916" stroke-width="0.8" stroke-linejoin="round" >丰</text>
<text x="1585" y="1436.5" font-size="48" font-weight="400" fill="#1d1916" font-family="'Noto Sans CJK TC','Liberation Sans',sans-serif" textLength="286.8" lengthAdjust="spacingAndGlyphs" stroke="#1d1916" stroke-width="2.5" stroke-linejoin="round" >奶泡打發角度</text>
<text x="1855" y="1436.5" font-size="48" font-weight="400" fill="#1d1916" font-family="'Noto Sans CJK TC','Liberation Sans',sans-serif" stroke="#1d1916" stroke-width="2.5" stroke-linejoin="round" >！</text>
<text x="1922.5" y="1436.5" font-size="48" font-weight="400" fill="#1d1916" font-family="'Noto Sans CJK TC','Liberation Sans',sans-serif" textLength="278.5" lengthAdjust="spacingAndGlyphs" stroke="#1d1916" stroke-width="2.5" stroke-linejoin="round" >萃取黃金時間</text>
<text x="2269.5" y="1436.5" font-size="48" font-weight="400" fill="#1d1916" font-family="'Noto Sans CJK TC','Liberation Sans',sans-serif" textLength="233" lengthAdjust="spacingAndGlyphs" stroke="#1d1916" stroke-width="2.5" stroke-linejoin="round" >溫杯不能忘</text>
<path d="M2513 1418.5 L2525.5 1433 L2546 1404" fill="none" stroke="#1d1916" stroke-width="7.5" stroke-linecap="round" stroke-linejoin="round"/>
<text x="1129.6" y="1079.4" font-size="27" font-weight="700" fill="#1d1916" font-family="'Noto Sans CJK TC','Liberation Sans',sans-serif" text-anchor="middle" textLength="47" lengthAdjust="spacingAndGlyphs" stroke="#1d1916" stroke-width="0.6" stroke-linejoin="round" >Bar</text>
<path d="M1812.4 928.7 C1850.9 918.7 1857.9 968.7 1794.9 990.7" fill="none" stroke="#1d1916" stroke-width="16.5" stroke-linecap="round"/>
<path d="M1812.4 928.7 C1850.9 918.7 1857.9 968.7 1794.9 990.7" fill="none" stroke="#dbe9f0" stroke-width="8.2" stroke-linecap="round"/>
<path d="M1639.1 910.7 C1641.7 987.2 1674.3 1023.2 1727 1023.2 C1779.7 1023.2 1812.3 987.2 1814.9 910.7Z" fill="#dbe9f0" stroke="#1d1916" stroke-width="4.2" stroke-linejoin="round"/>
<g clip-path="url(#cup1)"><path d="M1639.1 905 Q1727 905 1814.9 905 V1028.2 H1639.1Z" fill="#fbf1e5"/><path d="M1639.1 935.5 Q1727 950.5 1814.9 935.5 V1028.2 H1639.1Z" fill="#fcecdb"/><path d="M1639.1 980 Q1727 992 1814.9 980 V1028.2 H1639.1Z" fill="#8a5637"/><path d="M1639.1 935.5 Q1727 950.5 1814.9 935.5" fill="none" stroke="#1d1916" stroke-width="4.2"/><path d="M1639.1 980 Q1727 992 1814.9 980" fill="none" stroke="#1d1916" stroke-width="4.2"/></g>
<path d="M1650.1 910.7 C1652.4 980.1 1680.9 1012.7 1727 1012.7 C1773.1 1012.7 1801.6 980.1 1803.9 910.7Z" fill="none" stroke="#1d1916" stroke-width="4.2" stroke-linejoin="round"/>
<ellipse cx="1727" cy="910.7" rx="87.9" ry="12.8" fill="#fbf1e5" stroke="#1d1916" stroke-width="4.8"/>
<path d="M2164.4 928.9 C2202.9 918.9 2209.9 968.9 2146.9 990.9" fill="none" stroke="#1d1916" stroke-width="16.5" stroke-linecap="round"/>
<path d="M2164.4 928.9 C2202.9 918.9 2209.9 968.9 2146.9 990.9" fill="none" stroke="#dbe9f0" stroke-width="8.2" stroke-linecap="round"/>
<path d="M1992.1 910.9 C1994.7 986.7 2027.1 1022.3 2079.5 1022.3 C2131.9 1022.3 2164.3 986.7 2166.9 910.9Z" fill="#dbe9f0" stroke="#1d1916" stroke-width="4.2" stroke-linejoin="round"/>
<g clip-path="url(#cup2)"><path d="M1992.1 905 Q2079.5 905 2166.9 905 V1027.3 H1992.1Z" fill="#f8ecdf"/><path d="M1992.1 945.2 Q2079.5 958 2166.9 945.2 V1027.3 H1992.1Z" fill="#f5c98b"/><path d="M1992.1 974.6 Q2079.5 986.2 2166.9 974.6 V1027.3 H1992.1Z" fill="#85533a"/><path d="M1992.1 945.2 Q2079.5 958 2166.9 945.2" fill="none" stroke="#1d1916" stroke-width="4.2"/><path d="M1992.1 974.6 Q2079.5 986.2 2166.9 974.6" fill="none" stroke="#1d1916" stroke-width="4.2"/></g>
<path d="M2003.1 910.9 C2005.4 979.5 2033.7 1011.8 2079.5 1011.8 C2125.3 1011.8 2153.6 979.5 2155.9 910.9Z" fill="none" stroke="#1d1916" stroke-width="4.2" stroke-linejoin="round"/>
<ellipse cx="2079.5" cy="910.9" rx="87.4" ry="12" fill="#f8ecdf" stroke="#1d1916" stroke-width="4.8"/>
<circle cx="2063.6" cy="904.7" r="1.6" fill="#cfc6ba"/><circle cx="2093.1" cy="903.8" r="1.6" fill="#cfc6ba"/><circle cx="2082.7" cy="907" r="1.6" fill="#cfc6ba"/><circle cx="2039.7" cy="908.6" r="1.6" fill="#cfc6ba"/><circle cx="2037.9" cy="907.8" r="1.6" fill="#cfc6ba"/><circle cx="2040.8" cy="904" r="1.6" fill="#cfc6ba"/><circle cx="2072.7" cy="912.1" r="1.6" fill="#cfc6ba"/><circle cx="2045.6" cy="905.5" r="1.6" fill="#cfc6ba"/><circle cx="2091" cy="913.4" r="1.6" fill="#cfc6ba"/><circle cx="2086.4" cy="907.4" r="1.6" fill="#cfc6ba"/><circle cx="2122.4" cy="903.5" r="1.6" fill="#cfc6ba"/><circle cx="2111.8" cy="906.2" r="1.6" fill="#cfc6ba"/><circle cx="2047.5" cy="904.3" r="1.6" fill="#cfc6ba"/><circle cx="2062.3" cy="912" r="1.6" fill="#cfc6ba"/><circle cx="2050.8" cy="909.4" r="1.6" fill="#cfc6ba"/><circle cx="2092" cy="907.1" r="1.6" fill="#cfc6ba"/>
<path d="M2467 928.9 C2505.5 918.9 2512.5 968.9 2449.5 990.9" fill="none" stroke="#1d1916" stroke-width="16.5" stroke-linecap="round"/>
<path d="M2467 928.9 C2505.5 918.9 2512.5 968.9 2449.5 990.9" fill="none" stroke="#dbe9f0" stroke-width="8.2" stroke-linecap="round"/>
<path d="M2294.7 910.9 C2297.3 986.7 2329.7 1022.3 2382.1 1022.3 C2434.5 1022.3 2466.9 986.7 2469.5 910.9Z" fill="#dbe9f0" stroke="#1d1916" stroke-width="4.2" stroke-linejoin="round"/>
<g clip-path="url(#cup3)"><path d="M2294.7 905 Q2382.1 905 2469.5 905 V1027.3 H2294.7Z" fill="#fbead8"/><path d="M2294.7 931 Q2382.1 946.6 2469.5 931 V1027.3 H2294.7Z" fill="#85533a"/><path d="M2294.7 947 Q2382.1 960 2469.5 947 V1027.3 H2294.7Z" fill="#fcecdb"/><path d="M2294.7 977.8 Q2382.1 992 2469.5 977.8 V1027.3 H2294.7Z" fill="#85533a"/><path d="M2294.7 931 Q2382.1 946.6 2469.5 931" fill="none" stroke="#1d1916" stroke-width="4.2"/><path d="M2294.7 947 Q2382.1 960 2469.5 947" fill="none" stroke="#1d1916" stroke-width="4.2"/><path d="M2294.7 977.8 Q2382.1 992 2469.5 977.8" fill="none" stroke="#1d1916" stroke-width="4.2"/></g>
<path d="M2305.7 910.9 C2308 979.5 2336.3 1011.8 2382.1 1011.8 C2427.9 1011.8 2456.2 979.5 2458.5 910.9Z" fill="none" stroke="#1d1916" stroke-width="4.2" stroke-linejoin="round"/>
<ellipse cx="2382.1" cy="910.9" rx="87.4" ry="12" fill="#fbead8" stroke="#1d1916" stroke-width="4.8"/>
<path d="M2336 910 C2338 898 2352 897 2354 899 C2350 888 2362 880 2376 881 C2380 874 2386 877 2385 877 C2392 880 2398 886 2398 891 C2410 890 2416 897 2418 903 C2426 905 2430 909 2432 913 C2420 921 2345 921 2336 910Z" fill="#fbe9d6"/><path d="M2336 910 C2338 898 2352 897 2354 899 C2350 888 2362 880 2376 881 C2380 874 2386 877 2385 877 C2392 880 2398 886 2398 891 C2410 890 2416 897 2418 903 C2426 905 2430 909 2432 913" fill="none" stroke="#1d1916" stroke-width="4.2" stroke-linecap="round" stroke-linejoin="round"/><path d="M2340 905 C2352 910 2360 911 2367 911 M2388 895 C2394 895 2398 893 2398 891 M2406 909 C2414 906 2420 905 2418 903" fill="none" stroke="#1d1916" stroke-width="4.2" stroke-linecap="round"/>
<path d="M1777.2 931.8 L1860.8 934.7" fill="none" stroke="#1d1916" stroke-width="2.6" stroke-linecap="round"/>
<path d="M1775 958.6 L1860.3 965.4" fill="none" stroke="#1d1916" stroke-width="2.6" stroke-linecap="round"/>
<path d="M1753.2 999 L1850 999" fill="none" stroke="#1d1916" stroke-width="2.6" stroke-linecap="round"/>
<path d="M2430.8 930.4 L2487.8 925.3 L2519 919.6" fill="none" stroke="#1d1916" stroke-width="2.6" stroke-linecap="round"/>
<path d="M2431.4 961.8 L2523 961.8" fill="none" stroke="#1d1916" stroke-width="2.6" stroke-linecap="round"/>
<path d="M2417.3 1000.3 L2498 1002.2" fill="none" stroke="#1d1916" stroke-width="2.6" stroke-linecap="round"/>
<path d="M2206.3 916.4 H2217.9 V1008 H2206.3 M2217.9 961.2 H2227.5" fill="none" stroke="#1d1916" stroke-width="3" stroke-linecap="round"/>
<g transform="translate(1620 1220) scale(0.12812)" stroke-linejoin="round" stroke-linecap="round" ><path d="M1035 560 H1180 Q1245 565 1240 650 C1225 800 1170 915 1075 960" fill="none" stroke="#1d1916" stroke-width="134" /><path d="M1035 560 H1180 Q1245 565 1240 650 C1225 800 1170 915 1075 960" fill="none" stroke="#dadde2" stroke-width="60" /><path d="M245 465 L420 412 L470 480 Z" fill="#e8dad3" stroke="#1d1916" stroke-width="38" /><path d="M415 470 C400 420 450 370 530 370 C540 330 590 300 610 270 C650 225 740 225 790 270 C810 300 820 320 840 330 C900 310 960 340 985 400 C1000 430 1008 450 1010 470 Q620 570 415 470Z" fill="#f4f2ee" stroke="#1d1916" stroke-width="38" /><circle cx="630" cy="350" r="16" fill="#ddd9d4"/><circle cx="720" cy="420" r="18" fill="#ddd9d4"/><circle cx="830" cy="440" r="14" fill="#ddd9d4"/><circle cx="505" cy="410" r="14" fill="#ddd9d4"/><circle cx="750" cy="340" r="10" fill="#ddd9d4"/><path d="M245 465 L345 830 C325 950 315 1050 330 1120 C350 1200 550 1245 700 1245 C850 1245 1050 1210 1075 1120 L1010 470 Q620 570 245 465 Z" fill="#dadde2" stroke="#1d1916" stroke-width="40" /><path d="M390 590 L347 828" fill="none" stroke="#1d1916" stroke-width="34" /><path d="M455 655 V1075" fill="none" stroke="#fbfcfd" stroke-width="34" /><path d="M965 625 V640 M962 790 V800 M945 850 H985 M950 900 H975 M945 945 H985 M950 990 H975 M935 1050 H990 M940 1075 H990" fill="none" stroke="#9bbcbc" stroke-width="12" /><path d="M378 95 C330 110 310 160 340 200 C370 225 420 235 430 225 C445 180 420 100 378 95Z" fill="#efe0dc" stroke="#1d1916" stroke-width="34" /><path d="M160 285 C150 250 200 230 250 250 C300 270 330 300 335 310 C300 330 200 345 160 285Z" fill="#f1ece9" stroke="#1d1916" stroke-width="34" /></g>
<g transform="translate(1960 1240) scale(0.11390)" stroke-linejoin="round" stroke-linecap="round" ><path d="M600 252 C640 215 790 200 830 250" fill="none" stroke="#1d1916" stroke-width="14" /><rect x="330" y="275" width="1212" height="885" rx="150" fill="#8cc9ec" stroke="#1d1916" stroke-width="46"/><rect x="210" y="275" width="1212" height="885" rx="140" fill="#a7d9f3" stroke="#1d1916" stroke-width="46"/><rect x="315" y="390" width="1000" height="450" rx="70" fill="#d3d6bd" stroke="#1d1916" stroke-width="46"/><circle cx="445" cy="1002" r="70" fill="#efe6c8" stroke="#1d1916" stroke-width="38"/><circle cx="728" cy="1002" r="70" fill="#efe6c8" stroke="#1d1916" stroke-width="38"/><path d="M430 975 L445 1010 L470 995 M425 1030 L445 1010" fill="none" stroke="#1d1916" stroke-width="16" /><path d="M715 985 C740 970 755 1000 730 1010 C700 1020 700 1040 730 1035" fill="none" stroke="#1d1916" stroke-width="16" /><rect x="1080" y="945" width="188" height="118" rx="55" fill="#ee6f75" stroke="#1d1916" stroke-width="38"/><rect x="1468" y="680" width="40" height="140" rx="18" fill="#3a3a40"/></g>
<text x="2003" y="1327.3" font-size="47" font-weight="700" font-family="'Liberation Sans','DejaVu Sans',sans-serif" textLength="99" lengthAdjust="spacingAndGlyphs" fill="#2b2b28" stroke="#2b2b28" stroke-width="1.2">00:00</text>
<g transform="translate(2270 1240) scale(0.11388)" stroke-linejoin="round" stroke-linecap="round" ><path d="M420 930 C400 1000 370 1060 365 1110 L430 1125 C450 1080 470 1020 500 960 Z" fill="#d5d8db" stroke="#1d1916" stroke-width="38" /><path d="M500 940 C480 1010 450 1080 450 1130 L510 1125 C530 1070 560 1020 640 1000 C700 990 740 1010 750 940 Z" fill="#d5d8db" stroke="#1d1916" stroke-width="38" /><path d="M690 235 C700 195 730 190 760 195 L890 235 C925 250 935 280 925 310 Z" fill="#e3e5e8" stroke="#1d1916" stroke-width="38" /><path d="M150 450 L185 760 C220 860 420 905 560 900 C700 895 850 860 885 800 L975 450 Z" fill="#e3e5e8" stroke="#1d1916" stroke-width="42" /><path d="M225 625 C300 680 380 700 470 690 M235 690 C300 735 370 755 440 750 L480 690" fill="none" stroke="#1d1916" stroke-width="38" /><path d="M880 655 L1110 715 L1070 860 L870 800 C840 760 845 690 880 655Z" fill="#d0d3d6" stroke="#1d1916" stroke-width="40" /><path d="M1130 668 Q1085 690 1080 760 L1068 870 Q1070 925 1110 940 L1990 1235 Q2080 1250 2130 1150 Q2175 1040 2150 985 Q2130 925 2060 905 Z" fill="#6f7173" stroke="#1d1916" stroke-width="42" /><ellipse cx="2055" cy="1075" rx="82" ry="158" transform="rotate(14 2055 1075)" fill="#7f8285" stroke="#1d1916" stroke-width="34"/><ellipse cx="562" cy="440" rx="405" ry="218" transform="rotate(-3 562 440)" fill="#eceef0" stroke="#1d1916" stroke-width="42"/><clipPath id="pfc"><ellipse cx="565" cy="452" rx="338" ry="165" transform="rotate(-3 565 452)"/></clipPath><ellipse cx="565" cy="452" rx="338" ry="165" transform="rotate(-3 565 452)" fill="#d3d6d9" stroke="#1d1916" stroke-width="38"/><g clip-path="url(#pfc)"><ellipse cx="565" cy="505" rx="310" ry="115" fill="#8e5334" stroke="#1d1916" stroke-width="34"/></g><ellipse cx="565" cy="452" rx="338" ry="165" transform="rotate(-3 565 452)" fill="none" stroke="#1d1916" stroke-width="38"/></g>
</svg>
</body></html>
